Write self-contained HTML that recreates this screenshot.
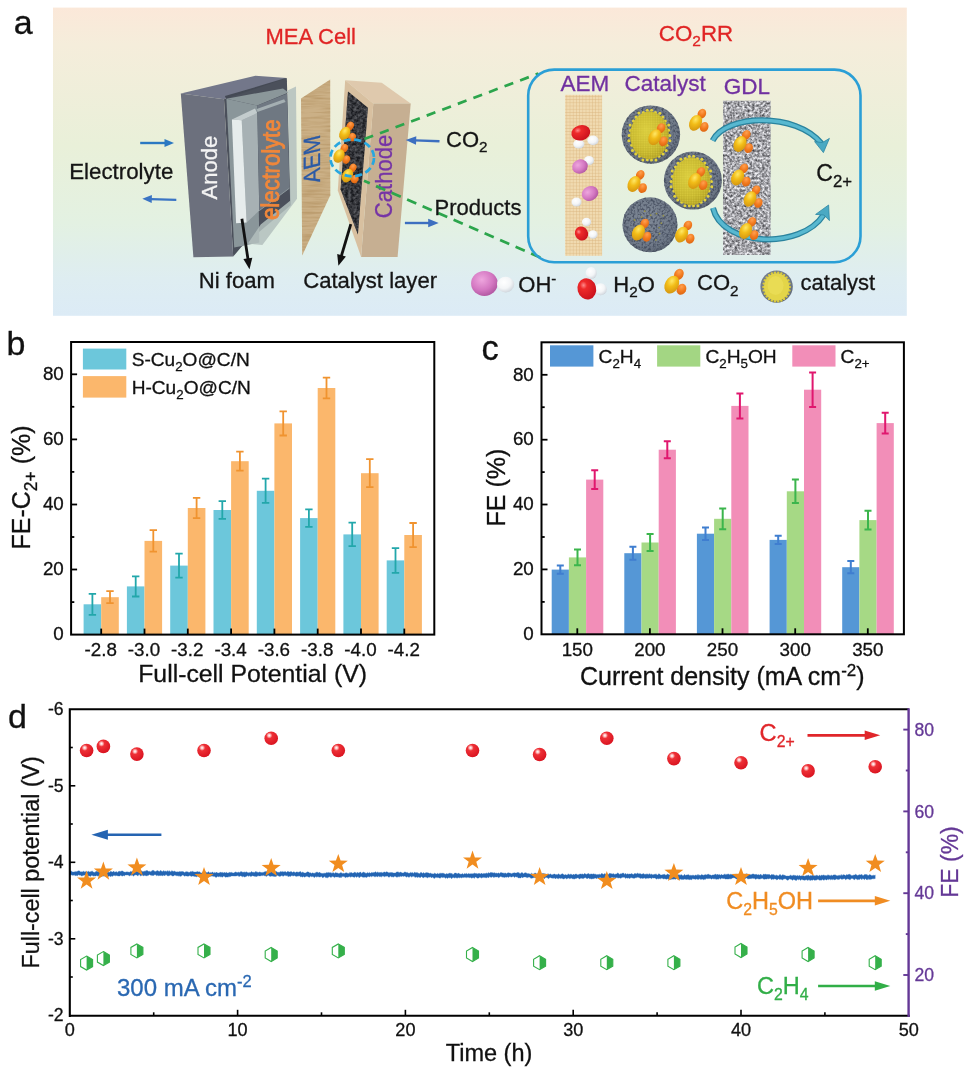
<!DOCTYPE html>
<html lang="en"><head><meta charset="utf-8"><title>MEA cell CO2RR figure</title>
<style>
html,body{margin:0;padding:0;background:#fff;}
body{width:969px;height:1070px;overflow:hidden;}
svg{display:block;}
text{font-family:"Liberation Sans",sans-serif;}
</style></head><body>
<svg width="969" height="1070" viewBox="0 0 969 1070">
<defs>
<linearGradient id="bg" x1="0" y1="0" x2="0" y2="1">
<stop offset="0" stop-color="#fbe8d9"/>
<stop offset="0.12" stop-color="#f5eddb"/>
<stop offset="0.45" stop-color="#e9f0d9"/>
<stop offset="0.7" stop-color="#e3f1e2"/>
<stop offset="0.88" stop-color="#deedf1"/>
<stop offset="1" stop-color="#dcebf6"/>
</linearGradient>
<radialGradient id="gRed" cx="0.38" cy="0.3" r="0.75"><stop offset="0" stop-color="#ff8a8a"/><stop offset="0.25" stop-color="#ee2a2a"/><stop offset="1" stop-color="#c8101c"/></radialGradient>
<radialGradient id="gRedBall" cx="0.36" cy="0.3" r="0.75"><stop offset="0" stop-color="#ffffff"/><stop offset="0.12" stop-color="#ffc4c4"/><stop offset="0.3" stop-color="#ee3036"/><stop offset="1" stop-color="#d8121f"/></radialGradient>
<radialGradient id="gPink" cx="0.4" cy="0.35" r="0.75"><stop offset="0" stop-color="#eea6de"/><stop offset="0.55" stop-color="#d478c2"/><stop offset="1" stop-color="#a84e98"/></radialGradient>
<radialGradient id="gWhite" cx="0.4" cy="0.35" r="0.8"><stop offset="0" stop-color="#ffffff"/><stop offset="0.5" stop-color="#f3f5f7"/><stop offset="0.8" stop-color="#d5dae0"/><stop offset="1" stop-color="#96a1ae"/></radialGradient>
<radialGradient id="gYel" cx="0.38" cy="0.32" r="0.8"><stop offset="0" stop-color="#ffe866"/><stop offset="0.4" stop-color="#f2bd18"/><stop offset="1" stop-color="#cf8e0e"/></radialGradient>
<radialGradient id="gOr" cx="0.4" cy="0.3" r="0.8"><stop offset="0" stop-color="#ffa050"/><stop offset="0.5" stop-color="#f27a1e"/><stop offset="1" stop-color="#d86210"/></radialGradient>
<radialGradient id="gCore" cx="0.42" cy="0.4" r="0.7"><stop offset="0" stop-color="#d9cc3e"/><stop offset="0.6" stop-color="#c6b62e"/><stop offset="1" stop-color="#a8961f"/></radialGradient>
<radialGradient id="gShell" cx="0.45" cy="0.4" r="0.65"><stop offset="0" stop-color="#808a98"/><stop offset="0.75" stop-color="#6f7988"/><stop offset="1" stop-color="#59626f"/></radialGradient>
<linearGradient id="gArr" x1="0" y1="0" x2="0" y2="1"><stop offset="0" stop-color="#6cc3d8"/><stop offset="1" stop-color="#2f8fad"/></linearGradient>
<filter id="fSpeck" x="0" y="0" width="100%" height="100%" color-interpolation-filters="sRGB">
<feTurbulence type="fractalNoise" baseFrequency="0.55" numOctaves="2" seed="3" result="n"/>
<feColorMatrix in="n" type="matrix" values="0 0 0 0 0  0 0 0 0 0  0 0 0 0 0  2.6 0 0 0 -0.95" result="a"/>
<feComposite in="a" in2="SourceGraphic" operator="in"/>
</filter>
<filter id="fDark" x="0" y="0" width="100%" height="100%" color-interpolation-filters="sRGB">
<feTurbulence type="fractalNoise" baseFrequency="0.35" numOctaves="2" seed="11" result="n"/>
<feColorMatrix in="n" type="matrix" values="1.5 0 0 0 -0.4  1.5 0 0 0 -0.4  1.5 0 0 0 -0.38  0 0 0 0 1" result="a"/>
<feComposite in="a" in2="SourceGraphic" operator="in"/>
</filter>
<filter id="fGdl" x="0" y="0" width="100%" height="100%" color-interpolation-filters="sRGB">
<feTurbulence type="fractalNoise" baseFrequency="0.4" numOctaves="2" seed="5" result="n"/>
<feColorMatrix in="n" type="matrix" values="1.25 0 0 0 0.03  1.25 0 0 0 0.03  1.25 0 0 0 0.05  0 0 0 0 1" result="a"/>
<feComposite in="a" in2="SourceGraphic" operator="in"/>
</filter>
<filter id="fShell" x="0" y="0" width="100%" height="100%" color-interpolation-filters="sRGB">
<feTurbulence type="fractalNoise" baseFrequency="0.45" numOctaves="2" seed="9" result="n"/>
<feColorMatrix in="n" type="matrix" values="0 0 0 0 0.22  0 0 0 0 0.25  0 0 0 0 0.32  3.4 0 0 0 -1.45" result="a"/>
<feComposite in="a" in2="SourceGraphic" operator="in"/>
</filter>
<filter id="fWood" x="0" y="0" width="100%" height="100%" color-interpolation-filters="sRGB">
<feTurbulence type="fractalNoise" baseFrequency="0.04 0.5" numOctaves="2" seed="2" result="n"/>
<feColorMatrix in="n" type="matrix" values="0 0 0 0 0.55  0 0 0 0 0.38  0 0 0 0 0.15  1.3 0 0 0 -0.5" result="a"/>
<feComposite in="a" in2="SourceGraphic" operator="in"/>
</filter>
<pattern id="weave" width="3.2" height="3.2" patternUnits="userSpaceOnUse">
<rect width="3.2" height="3.2" fill="#f0dab0"/>
<rect x="0" y="0" width="3.2" height="0.8" fill="#dcb882" opacity="0.55"/>
<rect x="0" y="0" width="0.8" height="3.2" fill="#d9b47c" opacity="0.45"/>
</pattern>
<pattern id="mesh" width="2.4" height="2.4" patternUnits="userSpaceOnUse">
<circle cx="1.2" cy="1.2" r="0.8" fill="#e6d948"/>
</pattern>
<clipPath id="clipB"><rect x="71" y="342" width="363" height="292.5"/></clipPath>
</defs>
<rect width="969" height="1070" fill="#ffffff"/>

<g id="panel-a">
<rect x="53" y="7.6" width="853.8" height="308.2" fill="url(#bg)"/>
<text x="13.7" y="34.3" font-size="34" fill="#111" stroke="#111" stroke-width="0.3" text-anchor="start" >a</text>
<text x="265.5" y="44.3" font-size="22" fill="#e02525" stroke="#e02525" stroke-width="0.3" text-anchor="start" >MEA Cell</text>
<text x="658.8" y="40.6" font-size="22.3" fill="#e02525" stroke="#e02525" stroke-width="0.3" text-anchor="start" >CO<tspan font-size="15.5" dy="5.5">2</tspan><tspan dy="-5.5">RR</tspan></text>
<line x1="140.2" y1="143.0" x2="165.5" y2="143.0" stroke="#2b78c2" stroke-width="2.4"/><polygon points="174.0,143.0 164.5,147.0 164.5,139.0" fill="#2b78c2"/>
<line x1="176.3" y1="199.9" x2="150.8" y2="199.1" stroke="#3a74c4" stroke-width="2.4"/><polygon points="142.3,198.8 151.9,195.1 151.7,203.1" fill="#3a74c4"/>
<text x="69.2" y="178.6" font-size="22.3" fill="#151515" stroke="#151515" stroke-width="0.3" text-anchor="start" >Electrolyte</text>
<polygon points="180.8,93.4 255.4,75.7 286.8,78.1 224.0,99.3" fill="#73778a" />
<polygon points="224.9,96.1 285.6,78.1 286.8,82.0 226.4,99.5" fill="#454a55" />
<polygon points="224.0,99.3 286.8,78.1 290.8,205.3 241.3,247.0 233.2,256.6" fill="#4b505b" />
<polygon points="180.8,93.4 224.0,99.3 233.2,256.6 193.4,257.2" fill="#6c707d" />
<polygon points="226.4,98.7 257.2,105.4 259.3,242.6 234.2,247.5" fill="#8a969a" />
<polygon points="226.4,98.7 283.0,88.5 288.5,92.5 257.2,105.4" fill="#8b979a" />
<polygon points="241.7,120.2 257.2,113.1 259.3,210.6 246.6,222.5" fill="#a7b1b4" />
<polygon points="231.9,119.5 255.0,108.6 257.2,113.1 241.7,120.2" fill="#c3cccd" />
<polygon points="231.9,119.5 241.7,120.2 246.6,222.5 236.1,223.2" fill="#e6ecec" />
<polygon points="257.2,105.4 287.3,93.5 289.4,188.2 259.3,210.6" fill="#6f7882" />
<path d="M259.3,210.6 L289.4,188.2" stroke="#8d989c" stroke-width="1" fill="none"/>
<polygon points="256.7,109.1 284.1,99.3 285.6,101.9 257.4,112.0" fill="#aeb8bb" opacity="0.85"/>
<polygon points="287.6,90.5 296.0,86.5 297.0,198.8 262.4,245.0 247.9,243.6 260.7,224.6 290.1,200.8" fill="#b3c0bd" opacity="0.85"/>
<text x="216.8" y="199.5" font-size="22" fill="#f4f4f4" stroke="#f4f4f4" stroke-width="0.3" text-anchor="start" transform="rotate(-90 216.8 199.5)" >Anode</text>
<text x="278.6" y="220.0" font-size="25" fill="#f0873a" stroke="#f0873a" stroke-width="0.3" text-anchor="start" transform="rotate(-89.3 278.6 220.0)" textLength="100.5" lengthAdjust="spacingAndGlyphs" style="stroke-width:0.9px">electrolyte</text>
<polygon points="301.0,98.4 330.2,79.6 330.3,195.2 302.2,255.6" fill="#cbb086" />
<polygon points="301.0,98.4 330.2,79.6 330.3,195.2 302.2,255.6" fill="#a88a56" filter="url(#fWood)" opacity="0.45"/>
<g transform="translate(320.3 181.6) skewY(-14)"><text x="0.0" y="0.0" font-size="23.5" fill="#2b5aa6" stroke="#2b5aa6" stroke-width="0.3" text-anchor="start" transform="rotate(-90 0.0 0.0)" textLength="47.5" lengthAdjust="spacingAndGlyphs">AEM</text></g>
<polygon points="345.2,80.3 381.7,82.7 410.7,103.6 373.3,103.6" fill="#dfc9ad" />
<polygon points="373.3,103.6 410.7,103.6 397.6,256.9 361.1,256.9" fill="#c6af92" />
<polygon points="345.2,80.3 373.3,103.6 361.1,256.9 337.8,190.6" fill="#d8c0a0" />
<polygon points="348.0,91.5 367.9,107.8 357.9,234.5 340.6,189.6" fill="#26282d" />
<polygon points="348.0,91.5 367.9,107.8 357.9,234.5 340.6,189.6" fill="#fff" filter="url(#fDark)" opacity="0.33"/>
<text x="391.6" y="218.2" font-size="23.2" fill="#7634a6" stroke="#7634a6" stroke-width="0.3" text-anchor="start" transform="rotate(-90 391.6 218.2)" textLength="83.5" lengthAdjust="spacingAndGlyphs">Cathode</text>
<g transform="translate(344.8 133.6) scale(0.93)"><ellipse cx="5.8" cy="-8.4" rx="3.8" ry="4.7" fill="url(#gOr)" transform="rotate(28 5.8 -8.4)"/><ellipse cx="7.9" cy="3.8" rx="3.9" ry="4.7" fill="url(#gOr)" transform="rotate(25 7.9 3.8)"/><ellipse cx="0" cy="0" rx="5.6" ry="7.7" fill="url(#gYel)" transform="rotate(28)"/></g>
<g transform="translate(339.0 156.0) scale(0.93)"><ellipse cx="5.8" cy="-8.4" rx="3.8" ry="4.7" fill="url(#gOr)" transform="rotate(28 5.8 -8.4)"/><ellipse cx="7.9" cy="3.8" rx="3.9" ry="4.7" fill="url(#gOr)" transform="rotate(25 7.9 3.8)"/><ellipse cx="0" cy="0" rx="5.6" ry="7.7" fill="url(#gYel)" transform="rotate(28)"/></g>
<g transform="translate(347.4 175.6) scale(0.93)"><ellipse cx="5.8" cy="-8.4" rx="3.8" ry="4.7" fill="url(#gOr)" transform="rotate(28 5.8 -8.4)"/><ellipse cx="7.9" cy="3.8" rx="3.9" ry="4.7" fill="url(#gOr)" transform="rotate(25 7.9 3.8)"/><ellipse cx="0" cy="0" rx="5.6" ry="7.7" fill="url(#gYel)" transform="rotate(28)"/></g>
<ellipse cx="352.2" cy="157.9" rx="21.8" ry="18.4" fill="none" stroke="#27a7e0" stroke-width="2.7" stroke-dasharray="7 3.7"/>
<line x1="364.4" y1="139.1" x2="538.4" y2="73.5" stroke="#2ca54c" stroke-width="2.7" stroke-dasharray="9.3 7.34"/>
<line x1="364" y1="180.8" x2="540.8" y2="257.7" stroke="#2ca54c" stroke-width="2.7" stroke-dasharray="10 6.9" stroke-dashoffset="3.7"/>
<line x1="439.5" y1="141.3" x2="415.2" y2="140.4" stroke="#3d6fc0" stroke-width="2.4"/><polygon points="405.7,140.1 416.3,136.2 416.0,144.7" fill="#3d6fc0"/>
<line x1="404.9" y1="223.0" x2="429.2" y2="223.0" stroke="#3d6fc0" stroke-width="2.4"/><polygon points="438.7,223.0 428.2,227.2 428.2,218.8" fill="#3d6fc0"/>
<text x="446.0" y="147.1" font-size="22" fill="#151515" stroke="#151515" stroke-width="0.3" text-anchor="start" >CO<tspan font-size="15.3" dy="5.2">2</tspan></text>
<text x="434.6" y="214.8" font-size="22" fill="#151515" stroke="#151515" stroke-width="0.3" text-anchor="start" >Products</text>
<line x1="241.9" y1="218.8" x2="248.0" y2="259.3" stroke="#111" stroke-width="2.8"/><polygon points="249.5,269.2 243.4,259.0 252.3,257.7" fill="#111"/>
<line x1="350.8" y1="224.2" x2="341.3" y2="256.2" stroke="#111" stroke-width="2.8"/><polygon points="338.4,265.8 337.2,254.0 345.9,256.5" fill="#111"/>
<text x="198.8" y="288.2" font-size="22.1" fill="#151515" stroke="#151515" stroke-width="0.3" text-anchor="start" >Ni foam</text>
<text x="303.2" y="288.2" font-size="22.1" fill="#151515" stroke="#151515" stroke-width="0.3" text-anchor="start" >Catalyst layer</text>
<rect x="528.2" y="69.6" width="332.3" height="192.7" rx="26" ry="26" fill="none" stroke="#2b9fd6" stroke-width="2.6"/>
<text x="560.6" y="90.5" font-size="22.5" fill="#7030a0" stroke="#7030a0" stroke-width="0.3" text-anchor="start" >AEM</text>
<text x="624.6" y="90.5" font-size="22.5" fill="#7030a0" stroke="#7030a0" stroke-width="0.3" text-anchor="start" >Catalyst</text>
<text x="723.8" y="94.2" font-size="22.5" fill="#7030a0" stroke="#7030a0" stroke-width="0.3" text-anchor="start" >GDL</text>
<rect x="565.1" y="94.8" width="37" height="161" fill="url(#weave)"/>
<g><ellipse cx="578.8" cy="144" rx="5.6" ry="4.6" fill="url(#gWhite)"/><ellipse cx="593" cy="140.4" rx="5.6" ry="4.8" fill="url(#gWhite)"/><ellipse cx="580.8" cy="132.8" rx="9.6" ry="7.6" fill="url(#gRed)" transform="rotate(-15 580.8 132.8)"/></g>
<g transform="translate(580.0 166.5) rotate(0) scale(1.0)"><ellipse cx="9" cy="-6" rx="5" ry="4.5" fill="url(#gWhite)"/><ellipse cx="0" cy="0" rx="8" ry="7" fill="url(#gPink)" transform="rotate(-20)"/></g>
<g><ellipse cx="576.5" cy="202" rx="5" ry="4.5" fill="url(#gWhite)"/><ellipse cx="590" cy="193.5" rx="8.5" ry="7.2" fill="url(#gPink)" transform="rotate(-25 590 193.5)"/></g>
<g><ellipse cx="586.5" cy="222" rx="4.6" ry="4.2" fill="url(#gWhite)"/><ellipse cx="593" cy="234.5" rx="4.6" ry="4.2" fill="url(#gWhite)"/><ellipse cx="581.5" cy="233.5" rx="6.5" ry="7.2" fill="url(#gRed)" transform="rotate(-30 581.5 233.5)"/></g>
<circle cx="650.9" cy="134.6" r="29.2" fill="url(#gShell)"/><circle cx="650.9" cy="134.6" r="29.2" fill="#fff" filter="url(#fShell)" opacity="0.7"/><circle cx="669.7" cy="135.4" r="1.5" fill="#e3d23c"/><circle cx="669.9" cy="140.7" r="1.5" fill="#e3d23c"/><circle cx="667.1" cy="145.2" r="1.5" fill="#e3d23c"/><circle cx="666.2" cy="150.4" r="1.5" fill="#e3d23c"/><circle cx="663.1" cy="154.1" r="1.5" fill="#e3d23c"/><circle cx="659.1" cy="156.3" r="1.5" fill="#e3d23c"/><circle cx="655.9" cy="159.9" r="1.5" fill="#e3d23c"/><circle cx="651.5" cy="159.9" r="1.5" fill="#e3d23c"/><circle cx="647.3" cy="159.8" r="1.5" fill="#e3d23c"/><circle cx="642.9" cy="159.9" r="1.5" fill="#e3d23c"/><circle cx="639.6" cy="156.3" r="1.5" fill="#e3d23c"/><circle cx="635.7" cy="154.0" r="1.5" fill="#e3d23c"/><circle cx="632.5" cy="150.4" r="1.5" fill="#e3d23c"/><circle cx="631.7" cy="145.2" r="1.5" fill="#e3d23c"/><circle cx="628.9" cy="140.7" r="1.5" fill="#e3d23c"/><circle cx="629.1" cy="135.4" r="1.5" fill="#e3d23c"/><circle cx="630.3" cy="130.4" r="1.5" fill="#e3d23c"/><circle cx="630.1" cy="124.9" r="1.5" fill="#e3d23c"/><circle cx="633.4" cy="121.0" r="1.5" fill="#e3d23c"/><circle cx="636.0" cy="117.0" r="1.5" fill="#e3d23c"/><circle cx="638.9" cy="113.1" r="1.5" fill="#e3d23c"/><circle cx="643.4" cy="112.5" r="1.5" fill="#e3d23c"/><circle cx="647.3" cy="110.3" r="1.5" fill="#e3d23c"/><circle cx="651.6" cy="110.2" r="1.5" fill="#e3d23c"/><circle cx="655.4" cy="112.5" r="1.5" fill="#e3d23c"/><circle cx="659.9" cy="113.2" r="1.5" fill="#e3d23c"/><circle cx="662.9" cy="116.9" r="1.5" fill="#e3d23c"/><circle cx="665.3" cy="121.1" r="1.5" fill="#e3d23c"/><circle cx="668.7" cy="124.9" r="1.5" fill="#e3d23c"/><circle cx="668.6" cy="130.3" r="1.5" fill="#e3d23c"/><ellipse cx="649.4" cy="135.4" rx="19.3" ry="23.9" fill="url(#gCore)"/><ellipse cx="649.4" cy="135.4" rx="19.3" ry="23.9" fill="url(#mesh)" opacity="0.55"/>
<circle cx="650" cy="224.8" r="27.5" fill="url(#gShell)"/><circle cx="650" cy="224.8" r="27.5" fill="#fff" filter="url(#fShell)" opacity="0.7"/><circle cx="659.2" cy="227.6" r="0.9" fill="#a39a3a" opacity="0.8"/><circle cx="659.5" cy="233.6" r="0.9" fill="#a39a3a" opacity="0.8"/><circle cx="655.9" cy="239.9" r="0.9" fill="#a39a3a" opacity="0.8"/><circle cx="649.1" cy="236.0" r="0.9" fill="#a39a3a" opacity="0.8"/><circle cx="642.7" cy="237.4" r="0.9" fill="#a39a3a" opacity="0.8"/><circle cx="642.0" cy="230.2" r="0.9" fill="#a39a3a" opacity="0.8"/><circle cx="637.2" cy="226.7" r="0.9" fill="#a39a3a" opacity="0.8"/><circle cx="634.5" cy="220.0" r="0.9" fill="#a39a3a" opacity="0.8"/><circle cx="641.7" cy="217.1" r="0.9" fill="#a39a3a" opacity="0.8"/><circle cx="644.7" cy="211.2" r="0.9" fill="#a39a3a" opacity="0.8"/><circle cx="650.7" cy="215.2" r="0.9" fill="#a39a3a" opacity="0.8"/><circle cx="656.5" cy="213.6" r="0.9" fill="#a39a3a" opacity="0.8"/><circle cx="663.4" cy="215.7" r="0.9" fill="#a39a3a" opacity="0.8"/><circle cx="661.2" cy="223.1" r="0.9" fill="#a39a3a" opacity="0.8"/>
<circle cx="692.9" cy="180.6" r="29" fill="url(#gShell)"/><circle cx="692.9" cy="180.6" r="29" fill="#fff" filter="url(#fShell)" opacity="0.7"/><circle cx="711.5" cy="181.4" r="1.5" fill="#e3d23c"/><circle cx="711.8" cy="186.7" r="1.5" fill="#e3d23c"/><circle cx="709.0" cy="191.1" r="1.5" fill="#e3d23c"/><circle cx="708.1" cy="196.3" r="1.5" fill="#e3d23c"/><circle cx="705.0" cy="200.0" r="1.5" fill="#e3d23c"/><circle cx="701.1" cy="202.2" r="1.5" fill="#e3d23c"/><circle cx="697.9" cy="205.8" r="1.5" fill="#e3d23c"/><circle cx="693.5" cy="205.7" r="1.5" fill="#e3d23c"/><circle cx="689.3" cy="205.7" r="1.5" fill="#e3d23c"/><circle cx="684.9" cy="205.8" r="1.5" fill="#e3d23c"/><circle cx="681.7" cy="202.2" r="1.5" fill="#e3d23c"/><circle cx="677.8" cy="199.9" r="1.5" fill="#e3d23c"/><circle cx="674.7" cy="196.3" r="1.5" fill="#e3d23c"/><circle cx="673.8" cy="191.1" r="1.5" fill="#e3d23c"/><circle cx="671.1" cy="186.7" r="1.5" fill="#e3d23c"/><circle cx="671.2" cy="181.4" r="1.5" fill="#e3d23c"/><circle cx="672.4" cy="176.4" r="1.5" fill="#e3d23c"/><circle cx="672.2" cy="171.0" r="1.5" fill="#e3d23c"/><circle cx="675.5" cy="167.1" r="1.5" fill="#e3d23c"/><circle cx="678.1" cy="163.2" r="1.5" fill="#e3d23c"/><circle cx="680.9" cy="159.2" r="1.5" fill="#e3d23c"/><circle cx="685.4" cy="158.6" r="1.5" fill="#e3d23c"/><circle cx="689.3" cy="156.5" r="1.5" fill="#e3d23c"/><circle cx="693.6" cy="156.3" r="1.5" fill="#e3d23c"/><circle cx="697.4" cy="158.7" r="1.5" fill="#e3d23c"/><circle cx="701.8" cy="159.3" r="1.5" fill="#e3d23c"/><circle cx="704.8" cy="163.1" r="1.5" fill="#e3d23c"/><circle cx="707.2" cy="167.2" r="1.5" fill="#e3d23c"/><circle cx="710.6" cy="171.0" r="1.5" fill="#e3d23c"/><circle cx="710.5" cy="176.4" r="1.5" fill="#e3d23c"/><ellipse cx="691.4" cy="181.4" rx="19.1" ry="23.8" fill="url(#gCore)"/><ellipse cx="691.4" cy="181.4" rx="19.1" ry="23.8" fill="url(#mesh)" opacity="0.55"/>
<rect x="723" y="100.8" width="47.5" height="154.2" fill="#a4a7ac"/>
<rect x="723" y="100.8" width="47.5" height="154.2" fill="#fff" filter="url(#fGdl)" opacity="0.9"/>
<path d="M712.6,140.6 C726,114 796,112 821.5,143.5" fill="none" stroke="#2a839e" stroke-width="6" stroke-linecap="butt"/>
<path d="M712.6,140.6 C726,114 796,112 821.5,143.5" fill="none" stroke="#58b8d0" stroke-width="3.4" stroke-linecap="butt"/>
<polygon points="823.4,152.6 814.6,141.6 822.4,142.6 829.4,138.4" fill="#4aa9c3" stroke="#2c87a3" stroke-width="0.8" stroke-linejoin="round"/>
<path d="M713,208 C722,247 801,250 823.5,215" fill="none" stroke="#2a839e" stroke-width="6" stroke-linecap="butt"/>
<path d="M713,208 C722,247 801,250 823.5,215" fill="none" stroke="#58b8d0" stroke-width="3.4" stroke-linecap="butt"/>
<polygon points="828.6,205 815.6,214.4 824,215 829.4,220.6" fill="#4aa9c3" stroke="#2c87a3" stroke-width="0.8" stroke-linejoin="round"/>
<g transform="translate(654.8 137.2) scale(1.08)"><ellipse cx="5.8" cy="-8.4" rx="3.8" ry="4.7" fill="url(#gOr)" transform="rotate(28 5.8 -8.4)"/><ellipse cx="7.9" cy="3.8" rx="3.9" ry="4.7" fill="url(#gOr)" transform="rotate(25 7.9 3.8)"/><ellipse cx="0" cy="0" rx="5.6" ry="7.7" fill="url(#gYel)" transform="rotate(28)"/></g>
<g transform="translate(694.6 181.0) scale(1.08)"><ellipse cx="5.8" cy="-8.4" rx="3.8" ry="4.7" fill="url(#gOr)" transform="rotate(28 5.8 -8.4)"/><ellipse cx="7.9" cy="3.8" rx="3.9" ry="4.7" fill="url(#gOr)" transform="rotate(25 7.9 3.8)"/><ellipse cx="0" cy="0" rx="5.6" ry="7.7" fill="url(#gYel)" transform="rotate(28)"/></g>
<g transform="translate(634.0 184.0) scale(1.08)"><ellipse cx="5.8" cy="-8.4" rx="3.8" ry="4.7" fill="url(#gOr)" transform="rotate(28 5.8 -8.4)"/><ellipse cx="7.9" cy="3.8" rx="3.9" ry="4.7" fill="url(#gOr)" transform="rotate(25 7.9 3.8)"/><ellipse cx="0" cy="0" rx="5.6" ry="7.7" fill="url(#gYel)" transform="rotate(28)"/></g>
<g transform="translate(695.6 122.8) scale(1.08)"><ellipse cx="5.8" cy="-8.4" rx="3.8" ry="4.7" fill="url(#gOr)" transform="rotate(28 5.8 -8.4)"/><ellipse cx="7.9" cy="3.8" rx="3.9" ry="4.7" fill="url(#gOr)" transform="rotate(25 7.9 3.8)"/><ellipse cx="0" cy="0" rx="5.6" ry="7.7" fill="url(#gYel)" transform="rotate(28)"/></g>
<g transform="translate(638.4 232.6) scale(1.08)"><ellipse cx="5.8" cy="-8.4" rx="3.8" ry="4.7" fill="url(#gOr)" transform="rotate(28 5.8 -8.4)"/><ellipse cx="7.9" cy="3.8" rx="3.9" ry="4.7" fill="url(#gOr)" transform="rotate(25 7.9 3.8)"/><ellipse cx="0" cy="0" rx="5.6" ry="7.7" fill="url(#gYel)" transform="rotate(28)"/></g>
<g transform="translate(681.6 234.6) scale(1.08)"><ellipse cx="5.8" cy="-8.4" rx="3.8" ry="4.7" fill="url(#gOr)" transform="rotate(28 5.8 -8.4)"/><ellipse cx="7.9" cy="3.8" rx="3.9" ry="4.7" fill="url(#gOr)" transform="rotate(25 7.9 3.8)"/><ellipse cx="0" cy="0" rx="5.6" ry="7.7" fill="url(#gYel)" transform="rotate(28)"/></g>
<g transform="translate(740.0 144.0) scale(1.08)"><ellipse cx="5.8" cy="-8.4" rx="3.8" ry="4.7" fill="url(#gOr)" transform="rotate(28 5.8 -8.4)"/><ellipse cx="7.9" cy="3.8" rx="3.9" ry="4.7" fill="url(#gOr)" transform="rotate(25 7.9 3.8)"/><ellipse cx="0" cy="0" rx="5.6" ry="7.7" fill="url(#gYel)" transform="rotate(28)"/></g>
<g transform="translate(737.6 177.5) scale(1.08)"><ellipse cx="5.8" cy="-8.4" rx="3.8" ry="4.7" fill="url(#gOr)" transform="rotate(28 5.8 -8.4)"/><ellipse cx="7.9" cy="3.8" rx="3.9" ry="4.7" fill="url(#gOr)" transform="rotate(25 7.9 3.8)"/><ellipse cx="0" cy="0" rx="5.6" ry="7.7" fill="url(#gYel)" transform="rotate(28)"/></g>
<g transform="translate(750.0 199.0) scale(1.05)"><ellipse cx="5.8" cy="-8.4" rx="3.8" ry="4.7" fill="url(#gOr)" transform="rotate(28 5.8 -8.4)"/><ellipse cx="7.9" cy="3.8" rx="3.9" ry="4.7" fill="url(#gOr)" transform="rotate(25 7.9 3.8)"/><ellipse cx="0" cy="0" rx="5.6" ry="7.7" fill="url(#gYel)" transform="rotate(28)"/></g>
<g transform="translate(745.6 231.0) scale(1.08)"><ellipse cx="5.8" cy="-8.4" rx="3.8" ry="4.7" fill="url(#gOr)" transform="rotate(28 5.8 -8.4)"/><ellipse cx="7.9" cy="3.8" rx="3.9" ry="4.7" fill="url(#gOr)" transform="rotate(25 7.9 3.8)"/><ellipse cx="0" cy="0" rx="5.6" ry="7.7" fill="url(#gYel)" transform="rotate(28)"/></g>
<text x="816.3" y="181.4" font-size="23" fill="#151515" stroke="#151515" stroke-width="0.3" text-anchor="start" >C<tspan font-size="16.8" dy="6.0">2+</tspan></text>
<ellipse cx="484.4" cy="283.4" rx="13.3" ry="12.5" fill="url(#gPink)"/>
<ellipse cx="505.6" cy="284.6" rx="8.6" ry="7.8" fill="url(#gWhite)"/>
<text x="518.3" y="291.6" font-size="22" fill="#151515" stroke="#151515" stroke-width="0.3" text-anchor="start" >OH<tspan font-size="15" dy="-8.0">-</tspan></text>
<ellipse cx="591.2" cy="273" rx="5.6" ry="6" fill="url(#gWhite)"/>
<ellipse cx="600.6" cy="289.2" rx="6.2" ry="6" fill="url(#gWhite)"/>
<ellipse cx="586.8" cy="288.8" rx="9.3" ry="10.7" fill="url(#gRed)" transform="rotate(-15 586.8 288.8)"/>
<text x="613.3" y="291.7" font-size="22" fill="#151515" stroke="#151515" stroke-width="0.3" text-anchor="start" >H<tspan font-size="15.3" dy="5.2">2</tspan><tspan dy="-5.2">O</tspan></text>
<g transform="translate(671.8 284.6) scale(1.22)"><ellipse cx="5.8" cy="-8.4" rx="3.8" ry="4.7" fill="url(#gOr)" transform="rotate(28 5.8 -8.4)"/><ellipse cx="7.9" cy="3.8" rx="3.9" ry="4.7" fill="url(#gOr)" transform="rotate(25 7.9 3.8)"/><ellipse cx="0" cy="0" rx="5.6" ry="7.7" fill="url(#gYel)" transform="rotate(28)"/></g>
<text x="697.0" y="290.4" font-size="22" fill="#151515" stroke="#151515" stroke-width="0.3" text-anchor="start" >CO<tspan font-size="15.3" dy="5.2">2</tspan></text>
<circle cx="776.6" cy="286.6" r="16.2" fill="url(#gShell)"/>
<circle cx="789.8" cy="287.0" r="1.2" fill="#d9c93a"/>
<circle cx="789.4" cy="290.4" r="1.2" fill="#d9c93a"/>
<circle cx="788.3" cy="293.7" r="1.2" fill="#d9c93a"/>
<circle cx="786.5" cy="296.5" r="1.2" fill="#d9c93a"/>
<circle cx="784.1" cy="298.9" r="1.2" fill="#d9c93a"/>
<circle cx="781.3" cy="300.5" r="1.2" fill="#d9c93a"/>
<circle cx="778.2" cy="301.3" r="1.2" fill="#d9c93a"/>
<circle cx="775.0" cy="301.3" r="1.2" fill="#d9c93a"/>
<circle cx="771.9" cy="300.5" r="1.2" fill="#d9c93a"/>
<circle cx="769.1" cy="298.9" r="1.2" fill="#d9c93a"/>
<circle cx="766.7" cy="296.5" r="1.2" fill="#d9c93a"/>
<circle cx="764.9" cy="293.7" r="1.2" fill="#d9c93a"/>
<circle cx="763.8" cy="290.4" r="1.2" fill="#d9c93a"/>
<circle cx="763.4" cy="287.0" r="1.2" fill="#d9c93a"/>
<circle cx="763.8" cy="283.6" r="1.2" fill="#d9c93a"/>
<circle cx="764.9" cy="280.3" r="1.2" fill="#d9c93a"/>
<circle cx="766.7" cy="277.5" r="1.2" fill="#d9c93a"/>
<circle cx="769.1" cy="275.1" r="1.2" fill="#d9c93a"/>
<circle cx="771.9" cy="273.5" r="1.2" fill="#d9c93a"/>
<circle cx="775.0" cy="272.7" r="1.2" fill="#d9c93a"/>
<circle cx="778.2" cy="272.7" r="1.2" fill="#d9c93a"/>
<circle cx="781.3" cy="273.5" r="1.2" fill="#d9c93a"/>
<circle cx="784.1" cy="275.1" r="1.2" fill="#d9c93a"/>
<circle cx="786.5" cy="277.5" r="1.2" fill="#d9c93a"/>
<circle cx="788.3" cy="280.3" r="1.2" fill="#d9c93a"/>
<circle cx="789.4" cy="283.6" r="1.2" fill="#d9c93a"/>
<ellipse cx="776.6" cy="287" rx="12.6" ry="13.8" fill="#e3d548"/>
<ellipse cx="775.6" cy="285.6" rx="8" ry="9.5" fill="#ebde5a" opacity="0.7"/>
<text x="800.6" y="289.6" font-size="22" fill="#151515" stroke="#151515" stroke-width="0.3" text-anchor="start" >catalyst</text>
</g>
<g id="panel-b">
<rect x="83.6" y="604.3" width="17.6" height="30.3" fill="#6cc7db"/>
<rect x="101.2" y="597.2" width="17.6" height="37.4" fill="#fbb76c"/>
<path d="M92.4,593.9 V614.8 M88.7,593.9 h7.4 M88.7,614.8 h7.4" stroke="#22a7ab" stroke-width="1.8" fill="none"/>
<path d="M110.0,591.2 V603.2 M106.3,591.2 h7.4 M106.3,603.2 h7.4" stroke="#f0932f" stroke-width="1.8" fill="none"/>
<rect x="126.9" y="586.4" width="17.6" height="48.2" fill="#6cc7db"/>
<rect x="144.5" y="540.9" width="17.6" height="93.7" fill="#fbb76c"/>
<path d="M135.7,576.4 V596.5 M132.0,576.4 h7.4 M132.0,596.5 h7.4" stroke="#22a7ab" stroke-width="1.8" fill="none"/>
<path d="M153.3,530.2 V551.6 M149.6,530.2 h7.4 M149.6,551.6 h7.4" stroke="#f0932f" stroke-width="1.8" fill="none"/>
<rect x="170.2" y="565.6" width="17.6" height="69.0" fill="#6cc7db"/>
<rect x="187.8" y="508.0" width="17.6" height="126.6" fill="#fbb76c"/>
<path d="M179.0,553.6 V577.7 M175.3,553.6 h7.4 M175.3,577.7 h7.4" stroke="#22a7ab" stroke-width="1.8" fill="none"/>
<path d="M196.6,497.9 V518.1 M192.9,497.9 h7.4 M192.9,518.1 h7.4" stroke="#f0932f" stroke-width="1.8" fill="none"/>
<rect x="213.5" y="510.0" width="17.6" height="124.6" fill="#6cc7db"/>
<rect x="231.1" y="461.2" width="17.6" height="173.4" fill="#fbb76c"/>
<path d="M222.3,501.2 V518.8 M218.6,501.2 h7.4 M218.6,518.8 h7.4" stroke="#22a7ab" stroke-width="1.8" fill="none"/>
<path d="M239.9,451.7 V470.6 M236.2,451.7 h7.4 M236.2,470.6 h7.4" stroke="#f0932f" stroke-width="1.8" fill="none"/>
<rect x="256.8" y="490.8" width="17.6" height="143.8" fill="#6cc7db"/>
<rect x="274.4" y="423.4" width="17.6" height="211.2" fill="#fbb76c"/>
<path d="M265.6,478.7 V502.8 M261.9,478.7 h7.4 M261.9,502.8 h7.4" stroke="#22a7ab" stroke-width="1.8" fill="none"/>
<path d="M283.2,411.4 V435.5 M279.5,411.4 h7.4 M279.5,435.5 h7.4" stroke="#f0932f" stroke-width="1.8" fill="none"/>
<rect x="300.1" y="518.1" width="17.6" height="116.5" fill="#6cc7db"/>
<rect x="317.7" y="388.0" width="17.6" height="246.6" fill="#fbb76c"/>
<path d="M308.9,509.3 V526.9 M305.2,509.3 h7.4 M305.2,526.9 h7.4" stroke="#22a7ab" stroke-width="1.8" fill="none"/>
<path d="M326.5,377.6 V398.4 M322.8,377.6 h7.4 M322.8,398.4 h7.4" stroke="#f0932f" stroke-width="1.8" fill="none"/>
<rect x="343.4" y="534.4" width="17.6" height="100.2" fill="#6cc7db"/>
<rect x="361.0" y="473.2" width="17.6" height="161.4" fill="#fbb76c"/>
<path d="M352.2,522.7 V546.1 M348.5,522.7 h7.4 M348.5,546.1 h7.4" stroke="#22a7ab" stroke-width="1.8" fill="none"/>
<path d="M369.8,459.2 V487.2 M366.1,459.2 h7.4 M366.1,487.2 h7.4" stroke="#f0932f" stroke-width="1.8" fill="none"/>
<rect x="386.7" y="560.4" width="17.6" height="74.2" fill="#6cc7db"/>
<rect x="404.3" y="535.0" width="17.6" height="99.6" fill="#fbb76c"/>
<path d="M395.5,548.1 V572.8 M391.8,548.1 h7.4 M391.8,572.8 h7.4" stroke="#22a7ab" stroke-width="1.8" fill="none"/>
<path d="M413.1,523.0 V547.1 M409.4,523.0 h7.4 M409.4,547.1 h7.4" stroke="#f0932f" stroke-width="1.8" fill="none"/>
<rect x="71.1" y="342.0" width="363.20000000000005" height="292.6" fill="none" stroke="#000" stroke-width="2"/>
<line x1="71.1" y1="602.1" x2="74.3" y2="602.1" stroke="#000" stroke-width="1.8"/>
<line x1="71.1" y1="569.5" x2="77.1" y2="569.5" stroke="#000" stroke-width="1.8"/>
<line x1="71.1" y1="537.0" x2="74.3" y2="537.0" stroke="#000" stroke-width="1.8"/>
<line x1="71.1" y1="504.5" x2="77.1" y2="504.5" stroke="#000" stroke-width="1.8"/>
<line x1="71.1" y1="471.9" x2="74.3" y2="471.9" stroke="#000" stroke-width="1.8"/>
<line x1="71.1" y1="439.4" x2="77.1" y2="439.4" stroke="#000" stroke-width="1.8"/>
<line x1="71.1" y1="406.8" x2="74.3" y2="406.8" stroke="#000" stroke-width="1.8"/>
<line x1="71.1" y1="374.3" x2="77.1" y2="374.3" stroke="#000" stroke-width="1.8"/>
<text x="63.8" y="640.3" font-size="18.8" fill="#111" stroke="#111" stroke-width="0.3" text-anchor="end" >0</text>
<text x="63.8" y="575.2" font-size="18.8" fill="#111" stroke="#111" stroke-width="0.3" text-anchor="end" >20</text>
<text x="63.8" y="510.2" font-size="18.8" fill="#111" stroke="#111" stroke-width="0.3" text-anchor="end" >40</text>
<text x="63.8" y="445.1" font-size="18.8" fill="#111" stroke="#111" stroke-width="0.3" text-anchor="end" >60</text>
<text x="63.8" y="380.0" font-size="18.8" fill="#111" stroke="#111" stroke-width="0.3" text-anchor="end" >80</text>
<line x1="101.2" y1="634.6" x2="101.2" y2="628.6" stroke="#000" stroke-width="1.8"/>
<text x="100.7" y="655.6" font-size="18.8" fill="#111" stroke="#111" stroke-width="0.3" text-anchor="middle" >-2.8</text>
<line x1="144.5" y1="634.6" x2="144.5" y2="628.6" stroke="#000" stroke-width="1.8"/>
<text x="144.0" y="655.6" font-size="18.8" fill="#111" stroke="#111" stroke-width="0.3" text-anchor="middle" >-3.0</text>
<line x1="187.8" y1="634.6" x2="187.8" y2="628.6" stroke="#000" stroke-width="1.8"/>
<text x="187.3" y="655.6" font-size="18.8" fill="#111" stroke="#111" stroke-width="0.3" text-anchor="middle" >-3.2</text>
<line x1="231.1" y1="634.6" x2="231.1" y2="628.6" stroke="#000" stroke-width="1.8"/>
<text x="230.6" y="655.6" font-size="18.8" fill="#111" stroke="#111" stroke-width="0.3" text-anchor="middle" >-3.4</text>
<line x1="274.4" y1="634.6" x2="274.4" y2="628.6" stroke="#000" stroke-width="1.8"/>
<text x="273.9" y="655.6" font-size="18.8" fill="#111" stroke="#111" stroke-width="0.3" text-anchor="middle" >-3.6</text>
<line x1="317.7" y1="634.6" x2="317.7" y2="628.6" stroke="#000" stroke-width="1.8"/>
<text x="317.2" y="655.6" font-size="18.8" fill="#111" stroke="#111" stroke-width="0.3" text-anchor="middle" >-3.8</text>
<line x1="361.0" y1="634.6" x2="361.0" y2="628.6" stroke="#000" stroke-width="1.8"/>
<text x="360.5" y="655.6" font-size="18.8" fill="#111" stroke="#111" stroke-width="0.3" text-anchor="middle" >-4.0</text>
<line x1="404.3" y1="634.6" x2="404.3" y2="628.6" stroke="#000" stroke-width="1.8"/>
<text x="403.8" y="655.6" font-size="18.8" fill="#111" stroke="#111" stroke-width="0.3" text-anchor="middle" >-4.2</text>
<text x="6.6" y="355.0" font-size="34" fill="#111" stroke="#111" stroke-width="0.3" text-anchor="start" >b</text>
<rect x="82.9" y="348.6" width="43.4" height="20.9" fill="#6cc7db"/>
<rect x="82.9" y="376.1" width="43.4" height="21.5" fill="#fbb76c"/>
<text x="131.7" y="365.7" font-size="19.1" fill="#111" stroke="#111" stroke-width="0.3" text-anchor="start" >S-Cu<tspan font-size="13.3" dy="5.0">2</tspan><tspan dy="-5.0">O@C/N</tspan></text>
<text x="131.7" y="393.5" font-size="19.1" fill="#111" stroke="#111" stroke-width="0.3" text-anchor="start" >H-Cu<tspan font-size="13.3" dy="5.0">2</tspan><tspan dy="-5.0">O@C/N</tspan></text>
<text x="252.6" y="681.9" font-size="24.8" fill="#111" stroke="#111" stroke-width="0.3" text-anchor="middle" >Full-cell Potential (V)</text>
<text x="30.2" y="487.5" font-size="25" fill="#111" stroke="#111" stroke-width="0.3" text-anchor="middle" transform="rotate(-90 30.2 487.5)" >FE-C<tspan font-size="17.5" dy="7.0">2+</tspan><tspan dy="-7.0"> (%)</tspan></text>
</g>
<g id="panel-c">
<rect x="551.7" y="569.6" width="17.2" height="64.7" fill="#5597d6"/>
<rect x="568.9" y="557.4" width="17.2" height="76.9" fill="#a6d985"/>
<rect x="586.1" y="479.6" width="17.2" height="154.7" fill="#f28eb8"/>
<path d="M560.3,565.5 V573.7 M556.8,565.5 h7 M556.8,573.7 h7" stroke="#3f7ed0" stroke-width="2" fill="none"/>
<path d="M577.5,549.6 V565.2 M574.0,549.6 h7 M574.0,565.2 h7" stroke="#3bb54c" stroke-width="2" fill="none"/>
<path d="M594.7,470.2 V489.0 M591.2,470.2 h7 M591.2,489.0 h7" stroke="#e0176e" stroke-width="2" fill="none"/>
<rect x="624.3" y="553.2" width="17.2" height="81.1" fill="#5597d6"/>
<rect x="641.5" y="542.5" width="17.2" height="91.8" fill="#a6d985"/>
<rect x="658.7" y="449.7" width="17.2" height="184.6" fill="#f28eb8"/>
<path d="M632.9,546.7 V559.7 M629.4,546.7 h7 M629.4,559.7 h7" stroke="#3f7ed0" stroke-width="2" fill="none"/>
<path d="M650.1,534.1 V550.9 M646.6,534.1 h7 M646.6,550.9 h7" stroke="#3bb54c" stroke-width="2" fill="none"/>
<path d="M667.3,441.3 V458.2 M663.8,441.3 h7 M663.8,458.2 h7" stroke="#e0176e" stroke-width="2" fill="none"/>
<rect x="696.9" y="533.7" width="17.2" height="100.6" fill="#5597d6"/>
<rect x="714.1" y="518.8" width="17.2" height="115.5" fill="#a6d985"/>
<rect x="731.3" y="405.9" width="17.2" height="228.4" fill="#f28eb8"/>
<path d="M705.5,527.6 V539.9 M702.0,527.6 h7 M702.0,539.9 h7" stroke="#3f7ed0" stroke-width="2" fill="none"/>
<path d="M722.7,508.4 V529.2 M719.2,508.4 h7 M719.2,529.2 h7" stroke="#3bb54c" stroke-width="2" fill="none"/>
<path d="M739.9,393.5 V418.4 M736.4,393.5 h7 M736.4,418.4 h7" stroke="#e0176e" stroke-width="2" fill="none"/>
<rect x="769.6" y="539.9" width="17.2" height="94.4" fill="#5597d6"/>
<rect x="786.8" y="491.3" width="17.2" height="143.0" fill="#a6d985"/>
<rect x="804.0" y="389.7" width="17.2" height="244.6" fill="#f28eb8"/>
<path d="M778.2,535.8 V544.0 M774.7,535.8 h7 M774.7,544.0 h7" stroke="#3f7ed0" stroke-width="2" fill="none"/>
<path d="M795.4,479.4 V503.1 M791.9,479.4 h7 M791.9,503.1 h7" stroke="#3bb54c" stroke-width="2" fill="none"/>
<path d="M812.6,372.5 V406.9 M809.1,372.5 h7 M809.1,406.9 h7" stroke="#e0176e" stroke-width="2" fill="none"/>
<rect x="842.2" y="567.2" width="17.2" height="67.1" fill="#5597d6"/>
<rect x="859.4" y="520.1" width="17.2" height="114.2" fill="#a6d985"/>
<rect x="876.6" y="423.1" width="17.2" height="211.2" fill="#f28eb8"/>
<path d="M850.8,561.0 V573.3 M847.3,561.0 h7 M847.3,573.3 h7" stroke="#3f7ed0" stroke-width="2" fill="none"/>
<path d="M868.0,510.7 V529.5 M864.5,510.7 h7 M864.5,529.5 h7" stroke="#3bb54c" stroke-width="2" fill="none"/>
<path d="M885.2,412.8 V433.5 M881.7,412.8 h7 M881.7,433.5 h7" stroke="#e0176e" stroke-width="2" fill="none"/>
<rect x="541.5" y="342.3" width="362.4" height="291.99999999999994" fill="none" stroke="#000" stroke-width="2"/>
<line x1="541.5" y1="601.9" x2="544.7" y2="601.9" stroke="#000" stroke-width="1.8"/>
<line x1="541.5" y1="569.4" x2="547.5" y2="569.4" stroke="#000" stroke-width="1.8"/>
<line x1="541.5" y1="537.0" x2="544.7" y2="537.0" stroke="#000" stroke-width="1.8"/>
<line x1="541.5" y1="504.5" x2="547.5" y2="504.5" stroke="#000" stroke-width="1.8"/>
<line x1="541.5" y1="472.1" x2="544.7" y2="472.1" stroke="#000" stroke-width="1.8"/>
<line x1="541.5" y1="439.7" x2="547.5" y2="439.7" stroke="#000" stroke-width="1.8"/>
<line x1="541.5" y1="407.2" x2="544.7" y2="407.2" stroke="#000" stroke-width="1.8"/>
<line x1="541.5" y1="374.8" x2="547.5" y2="374.8" stroke="#000" stroke-width="1.8"/>
<text x="533.8" y="640.0" font-size="18.8" fill="#111" stroke="#111" stroke-width="0.3" text-anchor="end" >0</text>
<text x="533.8" y="575.1" font-size="18.8" fill="#111" stroke="#111" stroke-width="0.3" text-anchor="end" >20</text>
<text x="533.8" y="510.2" font-size="18.8" fill="#111" stroke="#111" stroke-width="0.3" text-anchor="end" >40</text>
<text x="533.8" y="445.4" font-size="18.8" fill="#111" stroke="#111" stroke-width="0.3" text-anchor="end" >60</text>
<text x="533.8" y="380.5" font-size="18.8" fill="#111" stroke="#111" stroke-width="0.3" text-anchor="end" >80</text>
<line x1="577.3" y1="634.3" x2="577.3" y2="628.3" stroke="#000" stroke-width="1.8"/>
<text x="577.3" y="655.6" font-size="18.8" fill="#111" stroke="#111" stroke-width="0.3" text-anchor="middle" >150</text>
<line x1="649.9" y1="634.3" x2="649.9" y2="628.3" stroke="#000" stroke-width="1.8"/>
<text x="649.9" y="655.6" font-size="18.8" fill="#111" stroke="#111" stroke-width="0.3" text-anchor="middle" >200</text>
<line x1="722.5" y1="634.3" x2="722.5" y2="628.3" stroke="#000" stroke-width="1.8"/>
<text x="722.5" y="655.6" font-size="18.8" fill="#111" stroke="#111" stroke-width="0.3" text-anchor="middle" >250</text>
<line x1="795.2" y1="634.3" x2="795.2" y2="628.3" stroke="#000" stroke-width="1.8"/>
<text x="795.2" y="655.6" font-size="18.8" fill="#111" stroke="#111" stroke-width="0.3" text-anchor="middle" >300</text>
<line x1="867.8" y1="634.3" x2="867.8" y2="628.3" stroke="#000" stroke-width="1.8"/>
<text x="867.8" y="655.6" font-size="18.8" fill="#111" stroke="#111" stroke-width="0.3" text-anchor="middle" >350</text>
<text x="481.5" y="359.8" font-size="34.5" fill="#111" stroke="#111" stroke-width="0.3" text-anchor="start" >c</text>
<rect x="550" y="345.3" width="43.4" height="21.3" fill="#5597d6"/>
<rect x="657.1" y="345.3" width="43.2" height="21.3" fill="#a3d683"/>
<rect x="792.3" y="345.3" width="43.2" height="21.3" fill="#f28eb8"/>
<text x="598.6" y="362.6" font-size="19.2" fill="#111" stroke="#111" stroke-width="0.3" text-anchor="start" >C<tspan font-size="13.3" dy="5.0">2</tspan><tspan dy="-5.0">H</tspan><tspan font-size="13.3" dy="5.0">4</tspan></text>
<text x="705.4" y="362.6" font-size="19.2" fill="#111" stroke="#111" stroke-width="0.3" text-anchor="start" >C<tspan font-size="13.3" dy="5.0">2</tspan><tspan dy="-5.0">H</tspan><tspan font-size="13.3" dy="5.0">5</tspan><tspan dy="-5.0">OH</tspan></text>
<text x="840.6" y="362.6" font-size="19.2" fill="#111" stroke="#111" stroke-width="0.3" text-anchor="start" >C<tspan font-size="13.3" dy="5.0">2+</tspan></text>
<text x="722.3" y="684.6" font-size="25" fill="#111" stroke="#111" stroke-width="0.3" text-anchor="middle" >Current density (mA cm<tspan font-size="17" dy="-9.0">-2</tspan><tspan dy="9.0">)</tspan></text>
<text x="505.1" y="487.6" font-size="25" fill="#111" stroke="#111" stroke-width="0.3" text-anchor="middle" transform="rotate(-90 505.1 487.6)" >FE (%)</text>
</g>
<g id="panel-d">
<path d="M69.8,871.4 L70.7,871.0 L71.6,871.2 L72.5,871.9 L73.4,872.0 L74.3,871.9 L75.2,871.4 L76.1,871.9 L77.0,871.2 L77.9,871.3 L78.7,870.7 L79.6,870.9 L80.5,872.0 L81.4,871.8 L82.3,872.0 L83.2,871.3 L84.1,871.5 L85.0,872.3 L85.9,871.3 L86.8,871.9 L87.7,871.7 L88.6,871.2 L89.5,872.1 L90.4,871.7 L91.3,871.4 L92.2,871.0 L93.1,871.9 L94.0,872.3 L94.9,872.5 L95.8,871.4 L96.6,871.2 L97.5,871.5 L98.4,871.7 L99.3,871.3 L100.2,871.9 L101.1,872.5 L102.0,871.6 L102.9,871.3 L103.8,872.0 L104.7,872.5 L105.6,872.3 L106.5,872.5 L107.4,872.4 L108.3,872.0 L109.2,872.4 L110.1,871.7 L111.0,871.3 L111.9,872.1 L112.8,872.0 L113.7,871.1 L114.5,872.2 L115.4,872.1 L116.3,871.6 L117.2,872.4 L118.1,871.9 L119.0,871.0 L119.9,871.6 L120.8,871.4 L121.7,871.0 L122.6,871.0 L123.5,871.7 L124.4,872.1 L125.3,872.2 L126.2,872.0 L127.1,871.7 L128.0,872.2 L128.9,872.1 L129.8,872.2 L130.7,871.3 L131.6,871.8 L132.4,871.6 L133.3,870.8 L134.2,871.4 L135.1,872.0 L136.0,871.5 L136.9,870.8 L137.8,872.0 L138.7,871.2 L139.6,871.2 L140.5,871.2 L141.4,870.7 L142.3,871.6 L143.2,871.7 L144.1,871.1 L145.0,871.4 L145.9,870.7 L146.8,870.6 L147.7,870.7 L148.6,871.5 L149.4,871.3 L150.3,871.8 L151.2,871.5 L152.1,870.4 L153.0,870.5 L153.9,870.4 L154.8,871.5 L155.7,871.6 L156.6,870.9 L157.5,870.6 L158.4,870.9 L159.3,871.8 L160.2,870.5 L161.1,870.8 L162.0,871.6 L162.9,871.4 L163.8,870.5 L164.7,871.4 L165.6,870.9 L166.5,871.8 L167.3,870.6 L168.2,871.8 L169.1,870.6 L170.0,871.5 L170.9,871.9 L171.8,870.6 L172.7,871.3 L173.6,871.5 L174.5,870.9 L175.4,871.8 L176.3,871.9 L177.2,871.8 L178.1,872.1 L179.0,871.8 L179.9,871.4 L180.8,871.7 L181.7,871.6 L182.6,871.6 L183.5,871.8 L184.4,872.5 L185.2,872.2 L186.1,871.4 L187.0,872.1 L187.9,871.7 L188.8,872.4 L189.7,872.3 L190.6,871.5 L191.5,871.8 L192.4,871.3 L193.3,871.8 L194.2,872.0 L195.1,872.1 L196.0,872.1 L196.9,871.8 L197.8,871.5 L198.7,872.1 L199.6,871.7 L200.5,872.8 L201.4,872.9 L202.3,872.9 L203.1,871.8 L204.0,872.8 L204.9,872.1 L205.8,871.7 L206.7,872.8 L207.6,872.5 L208.5,871.6 L209.4,872.9 L210.3,872.4 L211.2,872.9 L212.1,872.1 L213.0,872.3 L213.9,873.2 L214.8,872.3 L215.7,873.1 L216.6,872.0 L217.5,873.0 L218.4,873.1 L219.3,872.8 L220.1,872.6 L221.0,872.0 L221.9,873.0 L222.8,872.3 L223.7,873.1 L224.6,872.2 L225.5,873.1 L226.4,872.2 L227.3,873.0 L228.2,873.1 L229.1,872.5 L230.0,872.3 L230.9,872.7 L231.8,872.3 L232.7,872.9 L233.6,873.0 L234.5,872.6 L235.4,871.9 L236.3,872.3 L237.2,872.5 L238.0,872.6 L238.9,871.9 L239.8,872.7 L240.7,871.6 L241.6,871.7 L242.5,872.2 L243.4,872.3 L244.3,871.9 L245.2,872.4 L246.1,871.8 L247.0,872.2 L247.9,872.7 L248.8,872.7 L249.7,872.4 L250.6,872.6 L251.5,871.4 L252.4,872.3 L253.3,872.3 L254.2,872.4 L255.1,872.3 L255.9,871.2 L256.8,872.3 L257.7,872.2 L258.6,872.6 L259.5,871.9 L260.4,872.3 L261.3,872.6 L262.2,872.4 L263.1,872.5 L264.0,872.1 L264.9,871.7 L265.8,871.4 L266.7,871.4 L267.6,871.9 L268.5,871.0 L269.4,871.4 L270.3,872.4 L271.2,871.2 L272.1,871.4 L272.9,872.3 L273.8,871.8 L274.7,871.3 L275.6,871.6 L276.5,871.5 L277.4,872.2 L278.3,872.3 L279.2,872.4 L280.1,871.7 L281.0,871.6 L281.9,871.9 L282.8,871.4 L283.7,871.9 L284.6,871.7 L285.5,871.6 L286.4,872.6 L287.3,871.6 L288.2,871.6 L289.1,872.0 L290.0,872.0 L290.8,871.6 L291.7,871.8 L292.6,872.6 L293.5,871.7 L294.4,872.0 L295.3,872.8 L296.2,871.9 L297.1,871.9 L298.0,872.2 L298.9,872.3 L299.8,871.7 L300.7,871.6 L301.6,873.1 L302.5,871.9 L303.4,872.5 L304.3,872.9 L305.2,872.9 L306.1,873.0 L307.0,871.8 L307.9,872.1 L308.7,872.0 L309.6,873.0 L310.5,872.7 L311.4,873.4 L312.3,872.8 L313.2,873.3 L314.1,873.0 L315.0,873.5 L315.9,872.3 L316.8,872.2 L317.7,872.2 L318.6,873.1 L319.5,872.1 L320.4,873.1 L321.3,873.3 L322.2,873.5 L323.1,873.3 L324.0,873.4 L324.9,873.0 L325.8,873.2 L326.6,872.4 L327.5,872.8 L328.4,872.4 L329.3,872.7 L330.2,872.7 L331.1,872.7 L332.0,873.4 L332.9,872.4 L333.8,873.1 L334.7,873.4 L335.6,872.4 L336.5,872.9 L337.4,873.0 L338.3,873.6 L339.2,873.5 L340.1,873.1 L341.0,872.5 L341.9,873.2 L342.8,873.5 L343.6,873.3 L344.5,873.5 L345.4,873.0 L346.3,872.7 L347.2,873.2 L348.1,873.2 L349.0,873.7 L349.9,872.3 L350.8,873.0 L351.7,872.4 L352.6,873.3 L353.5,873.1 L354.4,872.2 L355.3,872.3 L356.2,873.6 L357.1,872.3 L358.0,872.7 L358.9,873.0 L359.8,872.3 L360.7,872.1 L361.5,873.4 L362.4,872.7 L363.3,872.1 L364.2,872.5 L365.1,872.8 L366.0,873.4 L366.9,873.1 L367.8,872.4 L368.7,873.2 L369.6,872.4 L370.5,873.2 L371.4,872.5 L372.3,872.7 L373.2,872.4 L374.1,872.8 L375.0,871.8 L375.9,871.9 L376.8,872.9 L377.7,871.8 L378.6,872.7 L379.4,872.5 L380.3,872.6 L381.2,872.2 L382.1,872.8 L383.0,872.7 L383.9,872.1 L384.8,872.0 L385.7,872.4 L386.6,871.7 L387.5,871.9 L388.4,872.8 L389.3,872.7 L390.2,872.4 L391.1,872.8 L392.0,872.2 L392.9,872.9 L393.8,872.9 L394.7,873.0 L395.6,873.1 L396.5,871.9 L397.3,872.1 L398.2,871.8 L399.1,873.0 L400.0,872.1 L400.9,872.3 L401.8,872.7 L402.7,873.0 L403.6,872.9 L404.5,871.9 L405.4,871.9 L406.3,872.8 L407.2,872.2 L408.1,873.3 L409.0,872.9 L409.9,873.2 L410.8,872.2 L411.7,872.9 L412.6,872.4 L413.5,873.5 L414.3,872.2 L415.2,872.5 L416.1,873.1 L417.0,872.2 L417.9,873.3 L418.8,873.3 L419.7,873.8 L420.6,872.4 L421.5,872.4 L422.4,873.5 L423.3,872.5 L424.2,873.3 L425.1,873.3 L426.0,872.6 L426.9,872.8 L427.8,872.8 L428.7,873.1 L429.6,873.6 L430.5,872.9 L431.4,873.8 L432.2,873.8 L433.1,874.1 L434.0,873.7 L434.9,872.9 L435.8,873.9 L436.7,874.1 L437.6,873.2 L438.5,874.0 L439.4,873.4 L440.3,873.2 L441.2,873.4 L442.1,873.1 L443.0,873.5 L443.9,873.3 L444.8,874.1 L445.7,874.2 L446.6,873.6 L447.5,873.9 L448.4,873.7 L449.3,873.3 L450.1,873.0 L451.0,873.8 L451.9,873.2 L452.8,874.4 L453.7,874.3 L454.6,873.0 L455.5,873.1 L456.4,873.2 L457.3,874.1 L458.2,873.1 L459.1,873.6 L460.0,874.1 L460.9,874.2 L461.8,874.1 L462.7,873.5 L463.6,874.4 L464.5,873.4 L465.4,873.9 L466.3,873.2 L467.2,874.3 L468.0,873.8 L468.9,873.4 L469.8,874.1 L470.7,873.7 L471.6,873.8 L472.5,873.8 L473.4,873.7 L474.3,873.0 L475.2,873.7 L476.1,873.1 L477.0,874.2 L477.9,873.5 L478.8,873.6 L479.7,873.5 L480.6,874.1 L481.5,873.1 L482.4,874.0 L483.3,873.5 L484.2,873.8 L485.0,873.2 L485.9,873.8 L486.8,872.8 L487.7,873.7 L488.6,872.5 L489.5,873.2 L490.4,872.5 L491.3,872.6 L492.2,872.7 L493.1,872.7 L494.0,873.3 L494.9,872.6 L495.8,873.5 L496.7,873.1 L497.6,873.6 L498.5,872.7 L499.4,873.8 L500.3,872.7 L501.2,872.5 L502.1,872.9 L502.9,872.9 L503.8,873.2 L504.7,873.2 L505.6,873.1 L506.5,873.8 L507.4,873.1 L508.3,872.7 L509.2,873.1 L510.1,873.1 L511.0,873.6 L511.9,873.7 L512.8,873.1 L513.7,872.9 L514.6,872.8 L515.5,873.1 L516.4,873.1 L517.3,872.5 L518.2,872.6 L519.1,872.8 L520.0,873.7 L520.8,873.2 L521.7,872.6 L522.6,872.8 L523.5,873.9 L524.4,872.9 L525.3,872.7 L526.2,872.9 L527.1,873.4 L528.0,873.8 L528.9,873.4 L529.8,874.1 L530.7,874.0 L531.6,873.2 L532.5,874.0 L533.4,874.1 L534.3,873.4 L535.2,873.0 L536.1,873.5 L537.0,874.3 L537.9,873.5 L538.7,873.3 L539.6,873.0 L540.5,874.0 L541.4,873.9 L542.3,873.5 L543.2,873.4 L544.1,873.7 L545.0,873.8 L545.9,874.2 L546.8,874.7 L547.7,873.8 L548.6,874.0 L549.5,874.6 L550.4,873.8 L551.3,874.8 L552.2,874.7 L553.1,874.6 L554.0,874.0 L554.9,874.0 L555.7,874.8 L556.6,874.6 L557.5,874.8 L558.4,873.7 L559.3,874.4 L560.2,875.0 L561.1,874.2 L562.0,874.1 L562.9,873.7 L563.8,874.7 L564.7,875.0 L565.6,874.5 L566.5,875.0 L567.4,875.1 L568.3,873.7 L569.2,874.8 L570.1,874.4 L571.0,873.9 L571.9,874.7 L572.8,875.1 L573.6,874.0 L574.5,875.1 L575.4,874.0 L576.3,874.0 L577.2,874.8 L578.1,874.8 L579.0,874.6 L579.9,874.0 L580.8,874.0 L581.7,874.2 L582.6,873.9 L583.5,874.6 L584.4,873.6 L585.3,873.7 L586.2,874.6 L587.1,873.9 L588.0,873.8 L588.9,873.6 L589.8,874.6 L590.7,874.0 L591.5,873.9 L592.4,874.2 L593.3,873.8 L594.2,874.2 L595.1,874.0 L596.0,874.5 L596.9,874.7 L597.8,874.5 L598.7,874.6 L599.6,874.2 L600.5,874.7 L601.4,873.6 L602.3,873.6 L603.2,874.6 L604.1,874.1 L605.0,873.4 L605.9,874.5 L606.8,873.2 L607.7,874.4 L608.5,874.4 L609.4,873.3 L610.3,873.6 L611.2,873.6 L612.1,874.3 L613.0,873.4 L613.9,874.0 L614.8,874.4 L615.7,874.0 L616.6,873.9 L617.5,873.0 L618.4,873.2 L619.3,874.4 L620.2,873.8 L621.1,873.9 L622.0,873.6 L622.9,873.1 L623.8,873.2 L624.7,874.4 L625.6,873.3 L626.4,874.4 L627.3,873.7 L628.2,874.2 L629.1,873.9 L630.0,874.1 L630.9,874.1 L631.8,873.4 L632.7,874.3 L633.6,874.4 L634.5,873.5 L635.4,873.6 L636.3,874.0 L637.2,873.2 L638.1,873.3 L639.0,874.3 L639.9,873.3 L640.8,874.1 L641.7,874.3 L642.6,873.9 L643.5,873.6 L644.3,874.2 L645.2,874.5 L646.1,873.8 L647.0,874.6 L647.9,873.7 L648.8,874.7 L649.7,873.6 L650.6,874.7 L651.5,873.9 L652.4,874.8 L653.3,874.7 L654.2,874.3 L655.1,874.6 L656.0,873.7 L656.9,875.0 L657.8,875.0 L658.7,873.7 L659.6,874.1 L660.5,875.0 L661.4,875.1 L662.2,874.7 L663.1,874.7 L664.0,874.3 L664.9,874.4 L665.8,875.2 L666.7,874.8 L667.6,874.1 L668.5,874.6 L669.4,874.9 L670.3,874.5 L671.2,874.4 L672.1,874.3 L673.0,874.6 L673.9,875.1 L674.8,875.5 L675.7,874.5 L676.6,874.7 L677.5,875.0 L678.4,874.8 L679.2,874.7 L680.1,875.4 L681.0,874.6 L681.9,875.0 L682.8,875.7 L683.7,875.5 L684.6,874.3 L685.5,875.6 L686.4,875.0 L687.3,875.0 L688.2,874.5 L689.1,875.2 L690.0,875.5 L690.9,875.2 L691.8,875.6 L692.7,875.2 L693.6,875.3 L694.5,875.7 L695.4,875.1 L696.3,875.2 L697.1,875.4 L698.0,874.3 L698.9,875.4 L699.8,875.1 L700.7,875.5 L701.6,874.4 L702.5,874.9 L703.4,875.3 L704.3,875.1 L705.2,874.4 L706.1,874.9 L707.0,874.7 L707.9,874.3 L708.8,874.3 L709.7,874.9 L710.6,874.9 L711.5,875.5 L712.4,875.0 L713.3,875.0 L714.2,874.8 L715.0,874.4 L715.9,874.0 L716.8,875.3 L717.7,874.0 L718.6,875.1 L719.5,874.4 L720.4,875.3 L721.3,874.3 L722.2,875.1 L723.1,874.9 L724.0,874.7 L724.9,873.8 L725.8,874.9 L726.7,874.3 L727.6,874.2 L728.5,874.0 L729.4,874.8 L730.3,874.3 L731.2,874.5 L732.1,874.3 L732.9,874.7 L733.8,874.4 L734.7,874.4 L735.6,874.3 L736.5,874.3 L737.4,875.1 L738.3,874.4 L739.2,874.1 L740.1,874.5 L741.0,873.6 L741.9,874.1 L742.8,875.0 L743.7,874.1 L744.6,874.6 L745.5,874.3 L746.4,873.8 L747.3,874.0 L748.2,874.6 L749.1,874.6 L749.9,874.4 L750.8,874.8 L751.7,874.5 L752.6,874.0 L753.5,874.0 L754.4,874.5 L755.3,874.5 L756.2,874.3 L757.1,874.8 L758.0,874.9 L758.9,874.4 L759.8,875.3 L760.7,874.0 L761.6,875.3 L762.5,875.4 L763.4,874.1 L764.3,874.5 L765.2,874.1 L766.1,874.6 L767.0,874.5 L767.8,874.6 L768.7,874.6 L769.6,874.5 L770.5,875.4 L771.4,874.5 L772.3,874.7 L773.2,874.5 L774.1,874.9 L775.0,875.4 L775.9,875.4 L776.8,874.9 L777.7,875.8 L778.6,875.9 L779.5,874.7 L780.4,874.6 L781.3,876.0 L782.2,875.1 L783.1,874.6 L784.0,875.5 L784.9,875.1 L785.7,875.9 L786.6,876.1 L787.5,876.0 L788.4,876.1 L789.3,876.0 L790.2,875.2 L791.1,875.2 L792.0,876.2 L792.9,875.2 L793.8,875.2 L794.7,875.4 L795.6,875.6 L796.5,876.0 L797.4,875.3 L798.3,876.3 L799.2,875.2 L800.1,875.9 L801.0,876.1 L801.9,875.7 L802.8,875.9 L803.6,875.7 L804.5,876.2 L805.4,875.9 L806.3,875.5 L807.2,875.8 L808.1,875.0 L809.0,875.6 L809.9,876.3 L810.8,875.3 L811.7,875.9 L812.6,874.9 L813.5,875.5 L814.4,875.7 L815.3,875.8 L816.2,875.4 L817.1,875.1 L818.0,876.3 L818.9,875.7 L819.8,875.1 L820.6,876.2 L821.5,875.0 L822.4,875.4 L823.3,874.9 L824.2,875.2 L825.1,875.7 L826.0,875.3 L826.9,875.9 L827.8,874.7 L828.7,875.2 L829.6,875.4 L830.5,875.7 L831.4,874.9 L832.3,875.9 L833.2,874.9 L834.1,875.1 L835.0,874.7 L835.9,875.2 L836.8,875.7 L837.7,875.7 L838.5,875.4 L839.4,875.3 L840.3,875.7 L841.2,874.4 L842.1,875.7 L843.0,874.6 L843.9,874.9 L844.8,875.0 L845.7,875.7 L846.6,874.5 L847.5,874.9 L848.4,874.6 L849.3,874.3 L850.2,874.5 L851.1,875.4 L852.0,875.4 L852.9,875.6 L853.8,874.9 L854.7,875.0 L855.6,874.3 L856.4,874.8 L857.3,875.5 L858.2,875.3 L859.1,874.8 L860.0,874.7 L860.9,875.0 L861.8,874.3 L862.7,875.4 L863.6,875.4 L864.5,874.4 L865.4,874.5 L866.3,874.6 L867.2,874.8 L868.1,875.7 L869.0,874.7 L869.9,874.8 L870.8,875.0 L871.7,875.7 L872.6,875.5 L873.5,875.2 L874.3,875.6 L875.2,874.9 L875.2,878.6 L874.3,878.7 L873.5,878.8 L872.6,878.7 L871.7,879.0 L870.8,879.6 L869.9,878.9 L869.0,879.8 L868.1,878.6 L867.2,879.9 L866.3,879.4 L865.4,878.4 L864.5,879.7 L863.6,878.9 L862.7,878.4 L861.8,879.8 L860.9,878.6 L860.0,878.9 L859.1,879.7 L858.2,879.2 L857.3,879.7 L856.4,878.9 L855.6,878.4 L854.7,879.7 L853.8,879.6 L852.9,878.4 L852.0,878.6 L851.1,878.4 L850.2,879.8 L849.3,879.5 L848.4,879.0 L847.5,878.8 L846.6,879.1 L845.7,879.9 L844.8,878.4 L843.9,878.9 L843.0,878.7 L842.1,879.4 L841.2,879.0 L840.3,878.5 L839.4,879.3 L838.5,879.4 L837.7,879.6 L836.8,878.8 L835.9,879.4 L835.0,879.4 L834.1,879.9 L833.2,879.0 L832.3,879.8 L831.4,879.3 L830.5,879.8 L829.6,879.0 L828.7,879.7 L827.8,879.1 L826.9,879.9 L826.0,880.0 L825.1,878.9 L824.2,880.2 L823.3,880.0 L822.4,879.2 L821.5,880.2 L820.6,880.1 L819.8,880.2 L818.9,879.8 L818.0,879.3 L817.1,879.4 L816.2,880.3 L815.3,880.0 L814.4,880.3 L813.5,879.4 L812.6,880.2 L811.7,879.9 L810.8,880.2 L809.9,880.5 L809.0,879.4 L808.1,880.2 L807.2,880.2 L806.3,879.6 L805.4,880.0 L804.5,880.2 L803.6,880.0 L802.8,879.9 L801.9,879.1 L801.0,880.3 L800.1,880.1 L799.2,879.1 L798.3,879.9 L797.4,879.0 L796.5,880.4 L795.6,880.3 L794.7,880.0 L793.8,879.0 L792.9,880.2 L792.0,880.0 L791.1,879.1 L790.2,879.2 L789.3,878.8 L788.4,880.1 L787.5,880.2 L786.6,879.8 L785.7,878.8 L784.9,879.0 L784.0,878.8 L783.1,879.4 L782.2,880.0 L781.3,879.2 L780.4,879.3 L779.5,879.4 L778.6,878.7 L777.7,879.4 L776.8,879.9 L775.9,879.1 L775.0,879.0 L774.1,878.8 L773.2,879.5 L772.3,878.9 L771.4,879.7 L770.5,878.3 L769.6,878.4 L768.7,878.9 L767.8,878.5 L767.0,879.1 L766.1,879.1 L765.2,879.0 L764.3,879.3 L763.4,879.0 L762.5,878.3 L761.6,878.4 L760.7,878.8 L759.8,879.0 L758.9,879.1 L758.0,878.8 L757.1,878.4 L756.2,879.1 L755.3,879.3 L754.4,878.2 L753.5,878.4 L752.6,878.2 L751.7,878.6 L750.8,878.4 L749.9,878.9 L749.1,878.4 L748.2,879.0 L747.3,878.6 L746.4,877.8 L745.5,878.4 L744.6,879.2 L743.7,879.1 L742.8,878.6 L741.9,878.6 L741.0,877.8 L740.1,878.3 L739.2,878.9 L738.3,878.5 L737.4,878.9 L736.5,879.0 L735.6,878.4 L734.7,877.9 L733.8,877.8 L732.9,877.9 L732.1,878.1 L731.2,879.0 L730.3,878.8 L729.4,878.8 L728.5,879.0 L727.6,879.1 L726.7,878.9 L725.8,879.1 L724.9,879.0 L724.0,878.0 L723.1,879.0 L722.2,878.1 L721.3,878.2 L720.4,879.3 L719.5,877.9 L718.6,879.2 L717.7,879.1 L716.8,879.2 L715.9,879.3 L715.0,878.5 L714.2,879.0 L713.3,878.8 L712.4,878.4 L711.5,879.2 L710.6,878.4 L709.7,878.5 L708.8,878.5 L707.9,878.7 L707.0,878.4 L706.1,878.6 L705.2,879.4 L704.3,879.2 L703.4,879.7 L702.5,879.1 L701.6,879.2 L700.7,879.4 L699.8,878.6 L698.9,879.5 L698.0,879.1 L697.1,879.4 L696.3,878.7 L695.4,879.4 L694.5,879.0 L693.6,879.0 L692.7,878.4 L691.8,879.8 L690.9,879.5 L690.0,879.4 L689.1,879.8 L688.2,879.2 L687.3,879.3 L686.4,879.4 L685.5,879.2 L684.6,879.1 L683.7,879.5 L682.8,879.2 L681.9,879.8 L681.0,878.9 L680.1,879.3 L679.2,879.7 L678.4,878.9 L677.5,879.0 L676.6,878.6 L675.7,879.3 L674.8,878.9 L673.9,879.2 L673.0,878.9 L672.1,879.2 L671.2,879.2 L670.3,879.5 L669.4,878.5 L668.5,879.2 L667.6,878.7 L666.7,879.2 L665.8,878.9 L664.9,878.7 L664.0,878.7 L663.1,879.1 L662.2,878.0 L661.4,878.2 L660.5,878.8 L659.6,878.5 L658.7,879.0 L657.8,878.3 L656.9,879.2 L656.0,878.8 L655.1,878.0 L654.2,877.9 L653.3,878.1 L652.4,877.8 L651.5,878.8 L650.6,878.0 L649.7,877.9 L648.8,878.2 L647.9,878.3 L647.0,878.1 L646.1,878.5 L645.2,878.6 L644.3,877.8 L643.5,878.3 L642.6,878.4 L641.7,878.0 L640.8,878.6 L639.9,878.0 L639.0,877.6 L638.1,877.2 L637.2,877.3 L636.3,877.8 L635.4,877.7 L634.5,878.3 L633.6,878.3 L632.7,878.1 L631.8,877.8 L630.9,877.4 L630.0,878.5 L629.1,878.3 L628.2,877.8 L627.3,878.2 L626.4,877.8 L625.6,878.5 L624.7,877.3 L623.8,877.3 L622.9,877.2 L622.0,877.4 L621.1,878.1 L620.2,878.2 L619.3,877.7 L618.4,878.0 L617.5,877.8 L616.6,877.5 L615.7,878.1 L614.8,877.5 L613.9,877.7 L613.0,877.4 L612.1,877.2 L611.2,877.5 L610.3,878.4 L609.4,878.4 L608.5,877.2 L607.7,877.5 L606.8,878.6 L605.9,878.5 L605.0,878.6 L604.1,878.5 L603.2,878.1 L602.3,878.4 L601.4,878.2 L600.5,877.4 L599.6,877.5 L598.7,878.7 L597.8,877.4 L596.9,878.7 L596.0,878.3 L595.1,877.9 L594.2,878.5 L593.3,878.7 L592.4,878.7 L591.5,879.0 L590.7,878.6 L589.8,878.9 L588.9,878.0 L588.0,878.1 L587.1,879.0 L586.2,877.9 L585.3,877.6 L584.4,877.9 L583.5,878.6 L582.6,878.4 L581.7,878.3 L580.8,878.1 L579.9,879.0 L579.0,878.8 L578.1,877.8 L577.2,877.9 L576.3,878.4 L575.4,878.4 L574.5,879.0 L573.6,878.8 L572.8,879.1 L571.9,878.2 L571.0,878.0 L570.1,878.7 L569.2,878.6 L568.3,877.9 L567.4,878.5 L566.5,878.9 L565.6,878.1 L564.7,878.5 L563.8,879.0 L562.9,878.8 L562.0,878.3 L561.1,878.2 L560.2,878.6 L559.3,878.0 L558.4,878.8 L557.5,878.5 L556.6,877.8 L555.7,879.0 L554.9,878.2 L554.0,877.8 L553.1,878.4 L552.2,878.0 L551.3,878.0 L550.4,877.5 L549.5,877.7 L548.6,878.7 L547.7,878.0 L546.8,877.5 L545.9,877.3 L545.0,878.3 L544.1,878.7 L543.2,877.6 L542.3,877.3 L541.4,877.4 L540.5,878.3 L539.6,878.0 L538.7,877.5 L537.9,877.6 L537.0,878.5 L536.1,878.3 L535.2,877.8 L534.3,877.5 L533.4,877.7 L532.5,878.0 L531.6,878.2 L530.7,878.2 L529.8,877.1 L528.9,877.2 L528.0,877.1 L527.1,878.1 L526.2,876.9 L525.3,877.1 L524.4,876.9 L523.5,877.1 L522.6,878.0 L521.7,876.8 L520.8,878.0 L520.0,878.0 L519.1,877.7 L518.2,878.0 L517.3,876.7 L516.4,877.0 L515.5,876.5 L514.6,877.6 L513.7,876.6 L512.8,876.5 L511.9,877.1 L511.0,877.1 L510.1,876.6 L509.2,876.7 L508.3,877.6 L507.4,876.7 L506.5,877.3 L505.6,877.0 L504.7,877.4 L503.8,877.3 L502.9,876.9 L502.1,877.2 L501.2,876.6 L500.3,876.5 L499.4,877.3 L498.5,877.8 L497.6,876.8 L496.7,877.0 L495.8,877.0 L494.9,876.7 L494.0,877.7 L493.1,876.8 L492.2,876.7 L491.3,877.4 L490.4,877.1 L489.5,876.6 L488.6,878.0 L487.7,876.8 L486.8,878.0 L485.9,877.3 L485.0,878.0 L484.2,877.1 L483.3,877.4 L482.4,877.6 L481.5,878.1 L480.6,877.6 L479.7,877.0 L478.8,878.1 L477.9,878.0 L477.0,878.2 L476.1,877.1 L475.2,877.1 L474.3,878.4 L473.4,877.5 L472.5,877.7 L471.6,878.3 L470.7,877.3 L469.8,878.0 L468.9,877.1 L468.0,877.8 L467.2,877.1 L466.3,877.8 L465.4,877.3 L464.5,877.3 L463.6,877.5 L462.7,877.3 L461.8,878.0 L460.9,877.4 L460.0,877.6 L459.1,878.0 L458.2,877.2 L457.3,878.3 L456.4,877.8 L455.5,877.6 L454.6,878.0 L453.7,877.4 L452.8,877.5 L451.9,878.5 L451.0,878.3 L450.1,877.2 L449.3,878.1 L448.4,877.4 L447.5,878.5 L446.6,877.5 L445.7,878.4 L444.8,877.4 L443.9,877.3 L443.0,877.6 L442.1,877.4 L441.2,877.1 L440.3,878.2 L439.4,877.9 L438.5,877.5 L437.6,877.6 L436.7,877.6 L435.8,877.0 L434.9,878.3 L434.0,878.3 L433.1,877.6 L432.2,876.9 L431.4,877.9 L430.5,876.8 L429.6,877.2 L428.7,877.1 L427.8,877.8 L426.9,877.7 L426.0,876.8 L425.1,877.3 L424.2,876.9 L423.3,877.9 L422.4,877.2 L421.5,876.5 L420.6,877.4 L419.7,877.5 L418.8,876.8 L417.9,877.4 L417.0,877.2 L416.1,876.7 L415.2,877.6 L414.3,876.6 L413.5,876.3 L412.6,876.2 L411.7,877.3 L410.8,876.1 L409.9,876.6 L409.0,877.4 L408.1,876.7 L407.2,876.6 L406.3,877.2 L405.4,876.3 L404.5,876.1 L403.6,876.4 L402.7,875.9 L401.8,876.4 L400.9,876.4 L400.0,875.9 L399.1,877.2 L398.2,876.3 L397.3,877.3 L396.5,877.1 L395.6,876.4 L394.7,875.9 L393.8,877.2 L392.9,876.4 L392.0,877.2 L391.1,876.4 L390.2,876.0 L389.3,877.2 L388.4,876.9 L387.5,876.1 L386.6,876.2 L385.7,876.1 L384.8,876.9 L383.9,876.1 L383.0,876.4 L382.1,875.8 L381.2,877.2 L380.3,876.2 L379.4,876.8 L378.6,875.8 L377.7,876.9 L376.8,876.2 L375.9,876.6 L375.0,876.8 L374.1,876.6 L373.2,875.9 L372.3,876.2 L371.4,876.8 L370.5,876.0 L369.6,877.0 L368.7,876.4 L367.8,876.4 L366.9,877.4 L366.0,877.2 L365.1,876.9 L364.2,877.2 L363.3,877.2 L362.4,877.1 L361.5,876.4 L360.7,876.5 L359.8,877.4 L358.9,877.6 L358.0,876.2 L357.1,876.9 L356.2,877.3 L355.3,876.3 L354.4,877.5 L353.5,877.0 L352.6,876.7 L351.7,876.6 L350.8,877.3 L349.9,876.5 L349.0,876.8 L348.1,876.9 L347.2,877.2 L346.3,877.0 L345.4,877.7 L344.5,876.8 L343.6,876.6 L342.8,876.6 L341.9,876.6 L341.0,877.9 L340.1,876.8 L339.2,877.8 L338.3,876.7 L337.4,877.0 L336.5,876.9 L335.6,876.8 L334.7,877.6 L333.8,877.0 L332.9,876.6 L332.0,876.5 L331.1,877.4 L330.2,877.1 L329.3,876.5 L328.4,877.2 L327.5,877.8 L326.6,877.6 L325.8,877.8 L324.9,876.6 L324.0,876.7 L323.1,877.7 L322.2,877.5 L321.3,876.3 L320.4,876.9 L319.5,877.1 L318.6,876.8 L317.7,876.6 L316.8,877.2 L315.9,876.3 L315.0,877.2 L314.1,877.4 L313.2,876.6 L312.3,876.5 L311.4,876.7 L310.5,876.0 L309.6,877.3 L308.7,877.0 L307.9,876.7 L307.0,876.1 L306.1,876.6 L305.2,876.7 L304.3,877.2 L303.4,876.2 L302.5,877.2 L301.6,876.4 L300.7,877.1 L299.8,875.9 L298.9,875.8 L298.0,876.3 L297.1,876.0 L296.2,876.6 L295.3,875.9 L294.4,875.5 L293.5,875.9 L292.6,875.8 L291.7,875.5 L290.8,876.3 L290.0,876.4 L289.1,875.9 L288.2,876.8 L287.3,875.6 L286.4,875.7 L285.5,875.6 L284.6,875.3 L283.7,876.0 L282.8,876.3 L281.9,875.2 L281.0,876.2 L280.1,876.1 L279.2,876.4 L278.3,875.7 L277.4,875.2 L276.5,876.2 L275.6,876.5 L274.7,876.4 L273.8,876.4 L272.9,875.9 L272.1,876.3 L271.2,876.1 L270.3,876.4 L269.4,876.1 L268.5,875.3 L267.6,875.6 L266.7,876.4 L265.8,876.1 L264.9,875.9 L264.0,875.5 L263.1,875.2 L262.2,875.8 L261.3,875.6 L260.4,875.9 L259.5,875.9 L258.6,875.8 L257.7,875.8 L256.8,876.7 L255.9,876.1 L255.1,876.7 L254.2,876.0 L253.3,876.0 L252.4,875.7 L251.5,876.3 L250.6,876.6 L249.7,875.6 L248.8,876.5 L247.9,875.6 L247.0,875.9 L246.1,876.4 L245.2,876.7 L244.3,877.0 L243.4,876.3 L242.5,876.8 L241.6,876.2 L240.7,875.7 L239.8,876.3 L238.9,876.4 L238.0,875.6 L237.2,875.7 L236.3,875.9 L235.4,876.1 L234.5,876.1 L233.6,876.0 L232.7,875.9 L231.8,876.1 L230.9,875.9 L230.0,877.1 L229.1,876.3 L228.2,877.1 L227.3,877.1 L226.4,877.0 L225.5,877.2 L224.6,876.4 L223.7,875.9 L222.8,876.9 L221.9,877.2 L221.0,876.2 L220.1,877.2 L219.3,876.0 L218.4,877.0 L217.5,876.2 L216.6,877.3 L215.7,877.3 L214.8,876.6 L213.9,876.3 L213.0,876.4 L212.1,875.8 L211.2,876.2 L210.3,876.3 L209.4,876.4 L208.5,877.0 L207.6,876.4 L206.7,877.1 L205.8,877.1 L204.9,875.9 L204.0,876.7 L203.1,877.0 L202.3,876.6 L201.4,875.9 L200.5,876.2 L199.6,875.7 L198.7,876.9 L197.8,875.9 L196.9,876.8 L196.0,876.8 L195.1,876.2 L194.2,876.4 L193.3,876.1 L192.4,876.0 L191.5,876.4 L190.6,876.0 L189.7,875.6 L188.8,876.0 L187.9,876.3 L187.0,875.9 L186.1,875.9 L185.2,875.8 L184.4,876.3 L183.5,875.3 L182.6,875.0 L181.7,875.8 L180.8,876.3 L179.9,876.3 L179.0,875.6 L178.1,876.2 L177.2,875.5 L176.3,875.7 L175.4,875.2 L174.5,875.1 L173.6,876.0 L172.7,876.1 L171.8,875.7 L170.9,874.7 L170.0,875.5 L169.1,875.6 L168.2,875.9 L167.3,875.8 L166.5,874.8 L165.6,874.8 L164.7,876.0 L163.8,875.1 L162.9,875.7 L162.0,875.7 L161.1,875.2 L160.2,875.7 L159.3,875.5 L158.4,875.7 L157.5,875.2 L156.6,875.8 L155.7,874.8 L154.8,874.8 L153.9,875.0 L153.0,876.0 L152.1,875.1 L151.2,875.5 L150.3,874.9 L149.4,874.5 L148.6,875.3 L147.7,875.6 L146.8,875.7 L145.9,876.0 L145.0,874.9 L144.1,875.7 L143.2,875.7 L142.3,875.1 L141.4,875.6 L140.5,876.1 L139.6,874.6 L138.7,874.8 L137.8,876.1 L136.9,874.9 L136.0,875.1 L135.1,874.8 L134.2,875.4 L133.3,876.2 L132.4,874.9 L131.6,875.3 L130.7,875.0 L129.8,876.1 L128.9,875.4 L128.0,875.1 L127.1,874.9 L126.2,875.1 L125.3,875.0 L124.4,875.9 L123.5,875.5 L122.6,876.1 L121.7,876.1 L120.8,875.1 L119.9,875.9 L119.0,876.0 L118.1,875.9 L117.2,875.7 L116.3,875.4 L115.4,875.8 L114.5,875.4 L113.7,875.3 L112.8,876.4 L111.9,875.7 L111.0,876.4 L110.1,876.5 L109.2,875.8 L108.3,876.5 L107.4,875.5 L106.5,876.3 L105.6,875.3 L104.7,875.9 L103.8,876.2 L102.9,875.6 L102.0,876.7 L101.1,876.2 L100.2,876.2 L99.3,876.6 L98.4,875.8 L97.5,876.0 L96.6,875.6 L95.8,876.0 L94.9,876.1 L94.0,875.8 L93.1,876.2 L92.2,875.3 L91.3,875.5 L90.4,876.4 L89.5,875.9 L88.6,876.1 L87.7,875.5 L86.8,875.9 L85.9,875.6 L85.0,875.3 L84.1,875.0 L83.2,875.5 L82.3,875.8 L81.4,876.1 L80.5,875.0 L79.6,875.2 L78.7,874.8 L77.9,875.3 L77.0,876.1 L76.1,875.0 L75.2,875.9 L74.3,874.8 L73.4,875.3 L72.5,875.3 L71.6,875.1 L70.7,874.6 L69.8,874.7 Z" fill="#2364b2" stroke="#3a7cc6" stroke-width="0.4"/>
<polygon points="86.6,870.6 88.9,877.4 96.1,877.5 90.4,881.9 92.5,888.7 86.6,884.6 80.7,888.7 82.8,881.9 77.1,877.5 84.2,877.4" fill="#f18d1f" />
<polygon points="103.4,861.6 105.7,868.4 112.9,868.5 107.2,872.9 109.2,879.7 103.4,875.6 97.5,879.7 99.6,872.9 93.8,868.5 101.0,868.4" fill="#f18d1f" />
<polygon points="136.9,857.5 139.3,864.3 146.4,864.5 140.7,868.8 142.8,875.6 136.9,871.5 131.0,875.6 133.1,868.8 127.4,864.5 134.6,864.3" fill="#f18d1f" />
<polygon points="204.0,866.9 206.4,873.7 213.6,873.9 207.8,878.2 209.9,885.0 204.0,880.9 198.2,885.0 200.2,878.2 194.5,873.9 201.7,873.7" fill="#f18d1f" />
<polygon points="271.2,858.0 273.5,864.7 280.7,864.9 275.0,869.2 277.0,876.0 271.2,872.0 265.3,876.0 267.4,869.2 261.6,864.9 268.8,864.7" fill="#f18d1f" />
<polygon points="338.3,853.9 340.6,860.6 347.8,860.8 342.1,865.1 344.2,872.0 338.3,867.9 332.4,872.0 334.5,865.1 328.8,860.8 335.9,860.6" fill="#f18d1f" />
<polygon points="472.5,850.6 474.9,857.4 482.0,857.5 476.3,861.8 478.4,868.7 472.5,864.6 466.6,868.7 468.7,861.8 463.0,857.5 470.2,857.4" fill="#f18d1f" />
<polygon points="539.6,866.9 542.0,873.7 549.2,873.9 543.4,878.2 545.5,885.0 539.6,880.9 533.8,885.0 535.8,878.2 530.1,873.9 537.3,873.7" fill="#f18d1f" />
<polygon points="606.8,871.0 609.1,877.8 616.3,877.9 610.6,882.3 612.6,889.1 606.8,885.0 600.9,889.1 603.0,882.3 597.2,877.9 604.4,877.8" fill="#f18d1f" />
<polygon points="673.9,862.9 676.2,869.6 683.4,869.8 677.7,874.1 679.8,880.9 673.9,876.9 668.0,880.9 670.1,874.1 664.4,869.8 671.5,869.6" fill="#f18d1f" />
<polygon points="741.0,866.9 743.4,873.7 750.5,873.9 744.8,878.2 746.9,885.0 741.0,880.9 735.1,885.0 737.2,878.2 731.5,873.9 738.6,873.7" fill="#f18d1f" />
<polygon points="808.1,858.0 810.5,864.7 817.6,864.9 811.9,869.2 814.0,876.0 808.1,872.0 802.2,876.0 804.3,869.2 798.6,864.9 805.8,864.7" fill="#f18d1f" />
<polygon points="875.2,853.9 877.6,860.6 884.8,860.8 879.0,865.1 881.1,872.0 875.2,867.9 869.4,872.0 871.4,865.1 865.7,860.8 872.9,860.6" fill="#f18d1f" />
<g transform="translate(86.6 963.1) rotate(0)"><polygon points="0.0,-7.0 6.0,-3.5 6.0,3.5 0.0,7.0 -6.0,3.5 -6.0,-3.5" fill="#fff" stroke="#35b04a" stroke-width="1.1"/><polygon points="0,-7.0 6.0,-3.5 6.0,3.5 0,7.0" fill="#35b04a"/></g>
<g transform="translate(103.4 958.6) rotate(0)"><polygon points="0.0,-7.0 6.0,-3.5 6.0,3.5 0.0,7.0 -6.0,3.5 -6.0,-3.5" fill="#fff" stroke="#35b04a" stroke-width="1.1"/><polygon points="0,-7.0 6.0,-3.5 6.0,3.5 0,7.0" fill="#35b04a"/></g>
<g transform="translate(136.9 950.9) rotate(0)"><polygon points="0.0,-7.0 6.0,-3.5 6.0,3.5 0.0,7.0 -6.0,3.5 -6.0,-3.5" fill="#fff" stroke="#35b04a" stroke-width="1.1"/><polygon points="0,-7.0 6.0,-3.5 6.0,3.5 0,7.0" fill="#35b04a"/></g>
<g transform="translate(204.0 950.9) rotate(0)"><polygon points="0.0,-7.0 6.0,-3.5 6.0,3.5 0.0,7.0 -6.0,3.5 -6.0,-3.5" fill="#fff" stroke="#35b04a" stroke-width="1.1"/><polygon points="0,-7.0 6.0,-3.5 6.0,3.5 0,7.0" fill="#35b04a"/></g>
<g transform="translate(271.2 954.5) rotate(0)"><polygon points="0.0,-7.0 6.0,-3.5 6.0,3.5 0.0,7.0 -6.0,3.5 -6.0,-3.5" fill="#fff" stroke="#35b04a" stroke-width="1.1"/><polygon points="0,-7.0 6.0,-3.5 6.0,3.5 0,7.0" fill="#35b04a"/></g>
<g transform="translate(338.3 950.9) rotate(0)"><polygon points="0.0,-7.0 6.0,-3.5 6.0,3.5 0.0,7.0 -6.0,3.5 -6.0,-3.5" fill="#fff" stroke="#35b04a" stroke-width="1.1"/><polygon points="0,-7.0 6.0,-3.5 6.0,3.5 0,7.0" fill="#35b04a"/></g>
<g transform="translate(472.5 954.5) rotate(0)"><polygon points="0.0,-7.0 6.0,-3.5 6.0,3.5 0.0,7.0 -6.0,3.5 -6.0,-3.5" fill="#fff" stroke="#35b04a" stroke-width="1.1"/><polygon points="0,-7.0 6.0,-3.5 6.0,3.5 0,7.0" fill="#35b04a"/></g>
<g transform="translate(539.6 962.7) rotate(0)"><polygon points="0.0,-7.0 6.0,-3.5 6.0,3.5 0.0,7.0 -6.0,3.5 -6.0,-3.5" fill="#fff" stroke="#35b04a" stroke-width="1.1"/><polygon points="0,-7.0 6.0,-3.5 6.0,3.5 0,7.0" fill="#35b04a"/></g>
<g transform="translate(606.8 962.7) rotate(0)"><polygon points="0.0,-7.0 6.0,-3.5 6.0,3.5 0.0,7.0 -6.0,3.5 -6.0,-3.5" fill="#fff" stroke="#35b04a" stroke-width="1.1"/><polygon points="0,-7.0 6.0,-3.5 6.0,3.5 0,7.0" fill="#35b04a"/></g>
<g transform="translate(673.9 962.7) rotate(0)"><polygon points="0.0,-7.0 6.0,-3.5 6.0,3.5 0.0,7.0 -6.0,3.5 -6.0,-3.5" fill="#fff" stroke="#35b04a" stroke-width="1.1"/><polygon points="0,-7.0 6.0,-3.5 6.0,3.5 0,7.0" fill="#35b04a"/></g>
<g transform="translate(741.0 950.5) rotate(0)"><polygon points="0.0,-7.0 6.0,-3.5 6.0,3.5 0.0,7.0 -6.0,3.5 -6.0,-3.5" fill="#fff" stroke="#35b04a" stroke-width="1.1"/><polygon points="0,-7.0 6.0,-3.5 6.0,3.5 0,7.0" fill="#35b04a"/></g>
<g transform="translate(808.1 954.5) rotate(0)"><polygon points="0.0,-7.0 6.0,-3.5 6.0,3.5 0.0,7.0 -6.0,3.5 -6.0,-3.5" fill="#fff" stroke="#35b04a" stroke-width="1.1"/><polygon points="0,-7.0 6.0,-3.5 6.0,3.5 0,7.0" fill="#35b04a"/></g>
<g transform="translate(875.2 962.7) rotate(0)"><polygon points="0.0,-7.0 6.0,-3.5 6.0,3.5 0.0,7.0 -6.0,3.5 -6.0,-3.5" fill="#fff" stroke="#35b04a" stroke-width="1.1"/><polygon points="0,-7.0 6.0,-3.5 6.0,3.5 0,7.0" fill="#35b04a"/></g>
<circle cx="86.6" cy="750.5" r="6.8" fill="url(#gRedBall)"/>
<circle cx="103.4" cy="746.4" r="6.8" fill="url(#gRedBall)"/>
<circle cx="136.9" cy="754.1" r="6.8" fill="url(#gRedBall)"/>
<circle cx="204.0" cy="750.5" r="6.8" fill="url(#gRedBall)"/>
<circle cx="271.2" cy="738.2" r="6.8" fill="url(#gRedBall)"/>
<circle cx="338.3" cy="750.5" r="6.8" fill="url(#gRedBall)"/>
<circle cx="472.5" cy="750.5" r="6.8" fill="url(#gRedBall)"/>
<circle cx="539.6" cy="754.5" r="6.8" fill="url(#gRedBall)"/>
<circle cx="606.8" cy="738.2" r="6.8" fill="url(#gRedBall)"/>
<circle cx="673.9" cy="758.6" r="6.8" fill="url(#gRedBall)"/>
<circle cx="741.0" cy="762.7" r="6.8" fill="url(#gRedBall)"/>
<circle cx="808.1" cy="770.9" r="6.8" fill="url(#gRedBall)"/>
<circle cx="875.2" cy="766.8" r="6.8" fill="url(#gRedBall)"/>
<path d="M69.8,709.3 H908.8 M69.8,708.3 V1016.9 M68.8,1015.8 H909.8" stroke="#000" stroke-width="2.1" fill="none"/>
<line x1="908.5999999999999" y1="708.3" x2="908.5999999999999" y2="1016.9" stroke="#643896" stroke-width="2.4"/>
<line x1="69.8" y1="977.0" x2="72.8" y2="977.0" stroke="#000" stroke-width="1.6"/>
<line x1="69.8" y1="938.8" x2="75.3" y2="938.8" stroke="#000" stroke-width="1.6"/>
<line x1="69.8" y1="900.5" x2="72.8" y2="900.5" stroke="#000" stroke-width="1.6"/>
<line x1="69.8" y1="862.3" x2="75.3" y2="862.3" stroke="#000" stroke-width="1.6"/>
<line x1="69.8" y1="824.0" x2="72.8" y2="824.0" stroke="#000" stroke-width="1.6"/>
<line x1="69.8" y1="785.8" x2="75.3" y2="785.8" stroke="#000" stroke-width="1.6"/>
<line x1="69.8" y1="747.5" x2="72.8" y2="747.5" stroke="#000" stroke-width="1.6"/>
<text x="63.6" y="1021.1" font-size="17.6" fill="#111" stroke="#111" stroke-width="0.3" text-anchor="end" >-2</text>
<text x="63.6" y="944.6" font-size="17.6" fill="#111" stroke="#111" stroke-width="0.3" text-anchor="end" >-3</text>
<text x="63.6" y="868.1" font-size="17.6" fill="#111" stroke="#111" stroke-width="0.3" text-anchor="end" >-4</text>
<text x="63.6" y="791.6" font-size="17.6" fill="#111" stroke="#111" stroke-width="0.3" text-anchor="end" >-5</text>
<text x="63.6" y="715.1" font-size="17.6" fill="#111" stroke="#111" stroke-width="0.3" text-anchor="end" >-6</text>
<line x1="153.7" y1="1015.3" x2="153.7" y2="1012.3" stroke="#000" stroke-width="1.6"/>
<line x1="237.6" y1="1015.3" x2="237.6" y2="1009.8" stroke="#000" stroke-width="1.6"/>
<line x1="321.5" y1="1015.3" x2="321.5" y2="1012.3" stroke="#000" stroke-width="1.6"/>
<line x1="405.4" y1="1015.3" x2="405.4" y2="1009.8" stroke="#000" stroke-width="1.6"/>
<line x1="489.3" y1="1015.3" x2="489.3" y2="1012.3" stroke="#000" stroke-width="1.6"/>
<line x1="573.2" y1="1015.3" x2="573.2" y2="1009.8" stroke="#000" stroke-width="1.6"/>
<line x1="657.1" y1="1015.3" x2="657.1" y2="1012.3" stroke="#000" stroke-width="1.6"/>
<line x1="741.0" y1="1015.3" x2="741.0" y2="1009.8" stroke="#000" stroke-width="1.6"/>
<line x1="824.9" y1="1015.3" x2="824.9" y2="1012.3" stroke="#000" stroke-width="1.6"/>
<text x="69.8" y="1036.3" font-size="18.1" fill="#111" stroke="#111" stroke-width="0.3" text-anchor="middle" >0</text>
<text x="237.6" y="1036.3" font-size="18.1" fill="#111" stroke="#111" stroke-width="0.3" text-anchor="middle" >10</text>
<text x="405.4" y="1036.3" font-size="18.1" fill="#111" stroke="#111" stroke-width="0.3" text-anchor="middle" >20</text>
<text x="573.2" y="1036.3" font-size="18.1" fill="#111" stroke="#111" stroke-width="0.3" text-anchor="middle" >30</text>
<text x="741.0" y="1036.3" font-size="18.1" fill="#111" stroke="#111" stroke-width="0.3" text-anchor="middle" >40</text>
<text x="908.8" y="1036.3" font-size="18.1" fill="#111" stroke="#111" stroke-width="0.3" text-anchor="middle" >50</text>
<line x1="908.8" y1="975.0" x2="903.3" y2="975.0" stroke="#643896" stroke-width="1.9"/>
<line x1="908.8" y1="934.1" x2="905.8" y2="934.1" stroke="#643896" stroke-width="1.9"/>
<line x1="908.8" y1="893.2" x2="903.3" y2="893.2" stroke="#643896" stroke-width="1.9"/>
<line x1="908.8" y1="852.3" x2="905.8" y2="852.3" stroke="#643896" stroke-width="1.9"/>
<line x1="908.8" y1="811.4" x2="903.3" y2="811.4" stroke="#643896" stroke-width="1.9"/>
<line x1="908.8" y1="770.5" x2="905.8" y2="770.5" stroke="#643896" stroke-width="1.9"/>
<line x1="908.8" y1="729.6" x2="903.3" y2="729.6" stroke="#643896" stroke-width="1.9"/>
<text x="914.4" y="981.1" font-size="17.6" fill="#643896" stroke="#643896" stroke-width="0.3" text-anchor="start" >20</text>
<text x="914.4" y="899.3" font-size="17.6" fill="#643896" stroke="#643896" stroke-width="0.3" text-anchor="start" >40</text>
<text x="914.4" y="817.5" font-size="17.6" fill="#643896" stroke="#643896" stroke-width="0.3" text-anchor="start" >60</text>
<text x="914.4" y="735.7" font-size="17.6" fill="#643896" stroke="#643896" stroke-width="0.3" text-anchor="start" >80</text>
<text x="8.0" y="728.4" font-size="34" fill="#111" stroke="#111" stroke-width="0.3" text-anchor="start" >d</text>
<text x="38.9" y="862.3" font-size="23.3" fill="#111" stroke="#111" stroke-width="0.3" text-anchor="middle" transform="rotate(-90 38.9 862.3)" >Full-cell potential (V)</text>
<text x="489.0" y="1060.7" font-size="23.5" fill="#111" stroke="#111" stroke-width="0.3" text-anchor="middle" >Time (h)</text>
<text x="958.3" y="862.0" font-size="23" fill="#643896" stroke="#643896" stroke-width="0.3" text-anchor="middle" transform="rotate(-90 958.3 862.0)" >FE (%)</text>
<text x="117.0" y="995.6" font-size="24" fill="#2a68b2" stroke="#2a68b2" stroke-width="0.3" text-anchor="start" >300 mA cm<tspan font-size="16.5" dy="-9.0">-2</tspan></text>
<line x1="161.4" y1="834.7" x2="106.9" y2="834.7" stroke="#2564b2" stroke-width="2.6"/><polygon points="91.4,834.7 107.9,829.7 107.9,839.7" fill="#2564b2"/>
<text x="759.6" y="741.3" font-size="23.6" fill="#e0262a" stroke="#e0262a" stroke-width="0.3" text-anchor="start" >C<tspan font-size="15.8" dy="6.0">2+</tspan></text>
<line x1="807.5" y1="735.3" x2="865.7" y2="735.3" stroke="#e0262a" stroke-width="2.7"/><polygon points="880.2,735.3 864.7,740.0 864.7,730.5" fill="#e0262a"/>
<text x="726.2" y="909.0" font-size="23.5" fill="#f08c22" stroke="#f08c22" stroke-width="0.3" text-anchor="start" >C<tspan font-size="15.8" dy="6.0">2</tspan><tspan dy="-6.0">H</tspan><tspan font-size="15.8" dy="6.0">5</tspan><tspan dy="-6.0">OH</tspan></text>
<line x1="818.1" y1="900.8" x2="875.8" y2="900.8" stroke="#f08c22" stroke-width="2.7"/><polygon points="890.3,900.8 874.8,905.5 874.8,896.0" fill="#f08c22"/>
<text x="757.0" y="993.9" font-size="23.5" fill="#31ae47" stroke="#31ae47" stroke-width="0.3" text-anchor="start" >C<tspan font-size="15.8" dy="6.0">2</tspan><tspan dy="-6.0">H</tspan><tspan font-size="15.8" dy="6.0">4</tspan></text>
<line x1="818.1" y1="986.0" x2="875.8" y2="986.0" stroke="#31ae47" stroke-width="2.7"/><polygon points="890.3,986.0 874.8,990.8 874.8,981.2" fill="#31ae47"/>
</g>
</svg></body></html>
